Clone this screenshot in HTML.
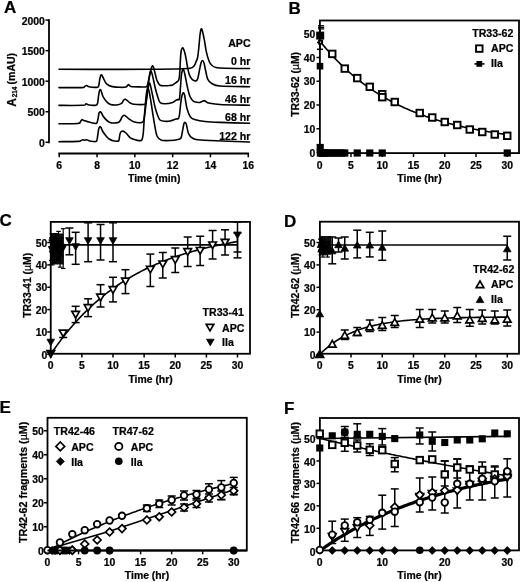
<!DOCTYPE html>
<html><head><meta charset="utf-8"><title>Figure</title>
<style>
html,body{margin:0;padding:0;background:#fff;}
body{width:520px;height:582px;overflow:hidden;}
svg{display:block;will-change:transform;}
text{font-family:"Liberation Sans",sans-serif;font-weight:bold;fill:#000;stroke:#000;stroke-width:0.22px;}
</style></head>
<body>
<svg width="520" height="582" viewBox="0 0 520 582" stroke="#000" fill="none">
<rect x="0" y="0" width="520" height="582" fill="#fff" stroke="none"/>
<g stroke="none" fill="#000">
</g>
<text x="3.9" y="12.6" font-size="17" text-anchor="start">A</text>
<line x1="49" y1="19.2" x2="49" y2="143.2" stroke-width="1.8"/>
<line x1="45.5" y1="142.3" x2="49" y2="142.3" stroke-width="1.5"/>
<text x="44.9" y="147" font-size="10.4" text-anchor="end">0</text>
<line x1="45.5" y1="111.75" x2="49" y2="111.75" stroke-width="1.5"/>
<text x="44.9" y="116.45" font-size="10.4" text-anchor="end">500</text>
<line x1="45.5" y1="81.2" x2="49" y2="81.2" stroke-width="1.5"/>
<text x="44.9" y="85.9" font-size="10.4" text-anchor="end">1000</text>
<line x1="45.5" y1="50.65" x2="49" y2="50.65" stroke-width="1.5"/>
<text x="44.9" y="55.35" font-size="10.4" text-anchor="end">1500</text>
<line x1="45.5" y1="20.1" x2="49" y2="20.1" stroke-width="1.5"/>
<text x="44.9" y="24.8" font-size="10.4" text-anchor="end">2000</text>
<line x1="58.35" y1="153.5" x2="249.15" y2="153.5" stroke-width="1.8"/>
<line x1="59.25" y1="153.5" x2="59.25" y2="157.3" stroke-width="1.5"/>
<text x="59.25" y="168.5" font-size="10.4" text-anchor="middle">6</text>
<line x1="97.05" y1="153.5" x2="97.05" y2="157.3" stroke-width="1.5"/>
<text x="97.05" y="168.5" font-size="10.4" text-anchor="middle">8</text>
<line x1="134.85" y1="153.5" x2="134.85" y2="157.3" stroke-width="1.5"/>
<text x="134.85" y="168.5" font-size="10.4" text-anchor="middle">10</text>
<line x1="172.65" y1="153.5" x2="172.65" y2="157.3" stroke-width="1.5"/>
<text x="172.65" y="168.5" font-size="10.4" text-anchor="middle">12</text>
<line x1="210.45" y1="153.5" x2="210.45" y2="157.3" stroke-width="1.5"/>
<text x="210.45" y="168.5" font-size="10.4" text-anchor="middle">14</text>
<line x1="248.25" y1="153.5" x2="248.25" y2="157.3" stroke-width="1.5"/>
<text x="248.25" y="168.5" font-size="10.4" text-anchor="middle">16</text>
<text x="154.25" y="182.1" font-size="10.4" text-anchor="middle">Time (min)</text>
<text transform="translate(16.4,106.7) rotate(-90)" font-size="12" text-anchor="start">A</text>
<text transform="translate(17.0,97.3) rotate(-90)" font-size="6.4" text-anchor="start">214</text>
<text transform="translate(15.1,84.4) rotate(-90)" font-size="10.5" text-anchor="start">(mAU)</text>
<path d="M59,69.3 C68.15,69.31 106.35,69.4 120,69.4 C133.65,69.4 141.75,69.36 150,69.3 C158.25,69.24 169,69.15 175,69 C181,68.85 187.12,68.78 190,68.3 C192.88,67.82 193.21,66.98 194.2,65.8 C195.19,64.61 196.09,61.64 196.6,60.4 C197.11,59.16 197.27,59.36 197.6,57.5 C197.93,55.64 198.44,51.38 198.8,48 C199.16,44.62 199.64,37.85 200,35 C200.36,32.15 200.84,29.6 201.2,29 C201.56,28.4 201.95,29.47 202.4,31 C202.85,32.53 203.61,36.11 204.2,39.2 C204.78,42.29 205.56,48.3 206.3,51.6 C207.04,54.9 208.25,59.12 209.1,61.2 C209.95,63.29 210.97,64.56 212,65.5 C213.03,66.44 214.05,67.09 216,67.5 C217.95,67.91 219.97,68.05 225,68.2 C230.03,68.35 245.82,68.45 249.5,68.5" fill="none" stroke-width="1.6" stroke-linejoin="round" stroke-linecap="round"/>
<path d="M59,87.6 C62.45,87.6 78.17,87.76 82,87.6 C85.83,87.44 83.8,86.81 84.5,86.5 C85.2,86.19 86.03,85.45 86.7,85.5 C87.38,85.55 87.61,86.52 89,86.8 C90.39,87.08 94.58,87.45 96,87.4 C97.42,87.36 97.93,87.76 98.5,86.5 C99.07,85.24 99.42,80.75 99.8,79 C100.17,77.25 100.62,75.25 101,74.8 C101.38,74.35 101.85,75.3 102.3,76 C102.75,76.7 103.44,78.42 104,79.5 C104.56,80.58 105.25,82.3 106,83.2 C106.75,84.1 108.06,84.99 109,85.5 C109.94,86.01 110.65,86.33 112.3,86.6 C113.95,86.87 117.94,87.24 120,87.3 C122.06,87.36 124.72,87.41 126,87 C127.28,86.59 127.75,84.67 128.5,84.6 C129.25,84.52 129.28,86.16 131,86.5 C132.72,86.84 137.68,86.87 140,86.9 C142.32,86.93 145.3,87.28 146.5,86.7 C147.7,86.12 147.47,85.06 148,83 C148.53,80.94 149.37,75.53 150,73 C150.63,70.47 151.66,66.92 152.2,66.1 C152.74,65.27 153.1,66.16 153.6,67.5 C154.09,68.84 154.99,73.05 155.5,75 C156.01,76.95 156.32,78.97 157,80.5 C157.68,82.03 158.72,84.42 160,85.2 C161.28,85.98 164,85.67 165.5,85.7 C167,85.73 168.94,85.51 170,85.4 C171.06,85.3 171.58,85.51 172.6,85 C173.62,84.49 175.92,82.67 176.8,82 C177.69,81.33 178.09,81.4 178.5,80.5 C178.91,79.6 179.25,78.47 179.5,76 C179.75,73.53 179.97,67.6 180.2,64 C180.42,60.4 180.61,54.43 181,52 C181.39,49.57 182.26,47.8 182.8,47.8 C183.34,47.8 184.06,50.11 184.6,52 C185.14,53.89 185.95,58.06 186.4,60.4 C186.85,62.74 187.15,65.42 187.6,67.6 C188.05,69.77 188.68,73.09 189.4,74.9 C190.12,76.72 191.41,78.8 192.4,79.7 C193.39,80.6 195.19,81.08 196,80.9 C196.81,80.72 197.28,80.14 197.8,78.5 C198.33,76.86 199.02,72.33 199.5,70 C199.98,67.67 200.55,64.42 201,63 C201.45,61.58 202.05,60.5 202.5,60.5 C202.95,60.5 203.55,61.58 204,63 C204.45,64.42 204.94,67.59 205.5,70 C206.06,72.41 206.75,77.07 207.7,79.1 C208.64,81.12 209.96,82.47 211.8,83.5 C213.65,84.53 214.34,85.52 220,86 C225.66,86.48 245.07,86.59 249.5,86.7" fill="none" stroke-width="1.6" stroke-linejoin="round" stroke-linecap="round"/>
<path d="M59,105.4 C62.6,105.39 78.95,105.54 83,105.3 C87.05,105.06 85.1,103.84 86,103.8 C86.9,103.75 87.5,104.79 89,105 C90.5,105.21 94.71,105.5 96,105.2 C97.29,104.9 97.18,104.68 97.6,103 C98.02,101.32 98.45,96 98.8,94 C99.14,92 99.54,90.15 99.9,89.7 C100.26,89.25 100.73,89.98 101.2,91 C101.67,92.02 102.28,95 103,96.5 C103.72,98 105.1,99.91 106,101 C106.9,102.09 108.06,103.22 109,103.8 C109.94,104.38 110.95,104.75 112.3,104.9 C113.65,105.05 116.58,105.05 118,104.8 C119.42,104.55 120.97,103.88 121.8,103.2 C122.62,102.53 123,100.88 123.5,100.3 C124,99.72 124.57,99.3 125.1,99.3 C125.62,99.3 126.28,99.77 127,100.3 C127.72,100.83 128.91,102.22 129.9,102.8 C130.89,103.38 131.34,103.99 133.6,104.2 C135.86,104.41 143.11,104.83 145,104.2 C146.89,103.57 145.7,103.03 146.2,100 C146.69,96.97 147.67,88.25 148.3,84 C148.93,79.75 149.88,73.35 150.4,71.7 C150.93,70.05 151.34,71.75 151.8,73 C152.27,74.25 152.94,77.6 153.5,80 C154.06,82.4 154.9,86.6 155.5,89 C156.1,91.4 156.82,93.97 157.5,96 C158.18,98.03 158.88,101.33 160,102.5 C161.12,103.67 163.11,103.8 165,103.8 C166.89,103.8 170.92,103.06 172.6,102.5 C174.28,101.94 175.31,100.55 176.2,100.1 C177.08,99.65 178,99.68 178.5,99.5 C179,99.32 179.22,100.62 179.5,98.9 C179.78,97.18 180.09,91.78 180.4,88 C180.72,84.22 181.15,76.49 181.6,73.7 C182.05,70.91 182.86,69.06 183.4,69.4 C183.94,69.75 184.57,73.21 185.2,76 C185.83,78.79 186.88,84.92 187.6,88 C188.32,91.08 189.1,94.5 190,96.5 C190.9,98.5 192.34,100.4 193.6,101.3 C194.86,102.2 197.29,102.39 198.4,102.5 C199.51,102.61 200.15,102.28 201,102 C201.85,101.72 203.28,100.6 204.1,100.6 C204.92,100.6 205.79,101.64 206.5,102 C207.21,102.36 206.78,102.62 208.8,103 C210.83,103.38 213.9,104.17 220,104.5 C226.1,104.83 245.07,105.09 249.5,105.2" fill="none" stroke-width="1.6" stroke-linejoin="round" stroke-linecap="round"/>
<path d="M59,123.8 C61.85,123.75 74.78,123.84 78,123.5 C81.22,123.16 79.89,122.09 80.5,121.5 C81.11,120.91 81.65,119.75 82.1,119.6 C82.55,119.45 83.03,120.33 83.5,120.5 C83.97,120.67 84.53,120.51 85.2,120.7 C85.88,120.89 87.07,121.5 88,121.8 C88.93,122.1 90.12,122.48 91.4,122.7 C92.68,122.92 95.51,123.86 96.5,123.3 C97.49,122.74 97.62,120.55 98,119 C98.38,117.45 98.67,114.06 99,113 C99.33,111.94 99.83,111.9 100.2,111.9 C100.58,111.9 101.08,112.39 101.5,113 C101.92,113.61 102.33,115.01 103,116 C103.67,116.99 105.1,118.7 106,119.6 C106.9,120.5 108.1,121.49 109,122 C109.9,122.51 110.65,122.91 112,123 C113.35,123.09 116.74,123 118,122.6 C119.26,122.19 119.8,121.14 120.4,120.3 C121,119.46 121.46,117.75 122,117 C122.54,116.25 123.4,115.41 124,115.3 C124.6,115.19 125.27,115.77 126,116.3 C126.73,116.83 127.76,117.99 128.9,118.8 C130.04,119.61 131.75,121.13 133.6,121.7 C135.44,122.27 139.7,122.75 141.2,122.6 C142.7,122.45 142.98,122.59 143.6,120.7 C144.22,118.81 144.75,114 145.3,110 C145.86,106 146.75,97.99 147.3,94 C147.86,90.01 148.55,84.75 149,83.4 C149.45,82.05 149.78,83.26 150.3,85 C150.83,86.74 151.8,91.7 152.5,95 C153.2,98.3 154.25,104 155,107 C155.75,110 156.75,113.05 157.5,115 C158.25,116.95 158.88,119.06 160,120 C161.12,120.94 163.5,121.15 165,121.3 C166.5,121.45 168.35,121.34 170,121 C171.65,120.66 174.72,119.38 176,119 C177.28,118.62 177.96,119.25 178.5,118.5 C179.04,117.75 179.22,116.62 179.6,114 C179.97,111.38 180.59,103.92 181,101 C181.41,98.08 181.94,95.72 182.3,94.5 C182.66,93.28 183.06,92.83 183.4,92.9 C183.75,92.98 184.07,92.72 184.6,95 C185.12,97.28 186.02,104.81 186.9,108.1 C187.78,111.38 189.19,115.15 190.5,116.9 C191.81,118.66 193.42,119.11 195.6,119.8 C197.78,120.49 201.34,121.11 205,121.5 C208.66,121.89 213.32,122.13 220,122.4 C226.68,122.67 245.07,123.16 249.5,123.3" fill="none" stroke-width="1.6" stroke-linejoin="round" stroke-linecap="round"/>
<path d="M59,141.7 C61.85,141.66 74.7,141.58 78,141.4 C81.3,141.22 80.27,140.75 81,140.5 C81.73,140.25 82.38,139.75 82.9,139.7 C83.43,139.65 83.93,140.2 84.5,140.2 C85.07,140.2 86.03,139.61 86.7,139.7 C87.38,139.79 88.06,140.53 89,140.8 C89.94,141.07 91.88,141.44 93,141.5 C94.12,141.56 95.83,141.88 96.5,141.2 C97.17,140.52 97.17,138.83 97.5,137 C97.83,135.17 98.34,130.56 98.7,129 C99.06,127.44 99.56,126.82 99.9,126.6 C100.25,126.38 100.61,126.84 101,127.5 C101.39,128.16 101.97,130.03 102.5,131 C103.03,131.97 103.83,133.1 104.5,134 C105.17,134.9 106.3,136.25 107,137 C107.7,137.75 108.3,138.43 109.2,139 C110.1,139.57 111.68,140.49 113,140.8 C114.32,141.12 117.1,141.2 118,141.1 C118.9,141 118.72,141.1 119,140.1 C119.28,139.09 119.6,135.65 119.9,134.4 C120.2,133.16 120.56,132.3 121,131.8 C121.44,131.31 122.27,131.1 122.8,131.1 C123.33,131.1 123.94,131.44 124.5,131.8 C125.06,132.16 125.55,132.54 126.5,133.5 C127.45,134.46 129.3,137.21 130.8,138.2 C132.3,139.19 134.97,139.74 136.5,140.1 C138.03,140.46 140.15,140.73 141,140.6 C141.85,140.47 141.85,140.34 142.2,139.2 C142.54,138.06 142.96,136.63 143.3,133 C143.65,129.37 144.09,120.4 144.5,115 C144.91,109.6 145.55,100.97 146,97 C146.45,93.03 147.05,89.4 147.5,88.5 C147.95,87.6 148.47,88.97 149,91 C149.53,93.03 150.4,98.4 151,102 C151.6,105.6 152.4,111.25 153,115 C153.6,118.75 154.4,123.85 155,127 C155.6,130.15 156.04,134.02 157,136 C157.96,137.98 159.45,139.52 161.4,140.2 C163.35,140.88 167.51,140.6 170,140.5 C172.49,140.4 176.35,139.88 178,139.5 C179.65,139.12 180.32,139.28 181,138 C181.68,136.72 182.05,133.18 182.5,131 C182.95,128.82 183.61,124.79 184,123.5 C184.39,122.21 184.75,122.33 185.1,122.4 C185.44,122.48 185.82,122.41 186.3,124 C186.78,125.59 187.55,131 188.3,133 C189.05,135 190.15,136.33 191.3,137.3 C192.46,138.28 193.19,139.02 196,139.5 C198.81,139.98 201.97,140.12 210,140.5 C218.03,140.88 243.57,141.78 249.5,142" fill="none" stroke-width="1.6" stroke-linejoin="round" stroke-linecap="round"/>
<text x="250.6" y="46.9" font-size="10.6" text-anchor="end">APC</text>
<text x="250.4" y="64.6" font-size="10.6" text-anchor="end">0 hr</text>
<text x="250.4" y="84.2" font-size="10.6" text-anchor="end">16 hr</text>
<text x="250.4" y="102.6" font-size="10.6" text-anchor="end">46 hr</text>
<text x="250.4" y="121.1" font-size="10.6" text-anchor="end">68 hr</text>
<text x="250.4" y="139.9" font-size="10.6" text-anchor="end">122 hr</text>
<text x="288.4" y="13.8" font-size="17" text-anchor="start">B</text>
<rect x="319.9" y="20.5" width="199.1" height="132.6" fill="none" stroke-width="1.8"/>
<line x1="316.5" y1="152.5" x2="320" y2="152.5" stroke-width="1.5"/>
<text x="315.2" y="156.5" font-size="10.4" text-anchor="end">0</text>
<line x1="316.5" y1="128.75" x2="320" y2="128.75" stroke-width="1.5"/>
<text x="315.2" y="132.75" font-size="10.4" text-anchor="end">10</text>
<line x1="316.5" y1="105" x2="320" y2="105" stroke-width="1.5"/>
<text x="315.2" y="109" font-size="10.4" text-anchor="end">20</text>
<line x1="316.5" y1="81.25" x2="320" y2="81.25" stroke-width="1.5"/>
<text x="315.2" y="85.25" font-size="10.4" text-anchor="end">30</text>
<line x1="316.5" y1="57.5" x2="320" y2="57.5" stroke-width="1.5"/>
<text x="315.2" y="61.5" font-size="10.4" text-anchor="end">40</text>
<line x1="316.5" y1="33.75" x2="320" y2="33.75" stroke-width="1.5"/>
<text x="315.2" y="37.75" font-size="10.4" text-anchor="end">50</text>
<line x1="319.75" y1="153.25" x2="319.75" y2="157.05" stroke-width="1.5"/>
<text x="319.75" y="168.85" font-size="10.4" text-anchor="middle">0</text>
<line x1="351" y1="153.25" x2="351" y2="157.05" stroke-width="1.5"/>
<text x="351" y="168.85" font-size="10.4" text-anchor="middle">5</text>
<line x1="382.25" y1="153.25" x2="382.25" y2="157.05" stroke-width="1.5"/>
<text x="382.25" y="168.85" font-size="10.4" text-anchor="middle">10</text>
<line x1="413.5" y1="153.25" x2="413.5" y2="157.05" stroke-width="1.5"/>
<text x="413.5" y="168.85" font-size="10.4" text-anchor="middle">15</text>
<line x1="444.75" y1="153.25" x2="444.75" y2="157.05" stroke-width="1.5"/>
<text x="444.75" y="168.85" font-size="10.4" text-anchor="middle">20</text>
<line x1="476" y1="153.25" x2="476" y2="157.05" stroke-width="1.5"/>
<text x="476" y="168.85" font-size="10.4" text-anchor="middle">25</text>
<line x1="507.25" y1="153.25" x2="507.25" y2="157.05" stroke-width="1.5"/>
<text x="507.25" y="168.85" font-size="10.4" text-anchor="middle">30</text>
<text x="419.5" y="182.1" font-size="10.4" text-anchor="middle">Time (hr)</text>
<text transform="translate(299.2,84.4) rotate(-90)" font-size="10.4" text-anchor="middle">TR33-62 (<tspan font-weight="normal">µ</tspan>M)</text>
<path d="M319.75,40.88 L321.31,42.83 L322.88,44.75 L324.44,46.63 L326,48.47 L327.56,50.29 L329.12,52.06 L330.69,53.81 L332.25,55.52 L333.81,57.2 L335.38,58.85 L336.94,60.47 L338.5,62.06 L340.06,63.61 L341.62,65.14 L343.19,66.64 L344.75,68.11 L346.31,69.56 L347.88,70.98 L349.44,72.37 L351,73.73 L352.56,75.07 L354.12,76.39 L355.69,77.68 L357.25,78.94 L358.81,80.18 L360.38,81.4 L361.94,82.6 L363.5,83.77 L365.06,84.93 L366.62,86.06 L368.19,87.16 L369.75,88.25 L371.31,89.32 L372.88,90.37 L374.44,91.4 L376,92.41 L377.56,93.4 L379.12,94.37 L380.69,95.32 L382.25,96.26 L383.81,97.18 L385.38,98.08 L386.94,98.96 L388.5,99.83 L390.06,100.68 L391.62,101.52 L393.19,102.34 L394.75,103.14 L396.31,103.93 L397.88,104.71 L399.44,105.47 L401,106.21 L402.56,106.95 L404.12,107.66 L405.69,108.37 L407.25,109.06 L408.81,109.74 L410.38,110.41 L411.94,111.06 L413.5,111.7 L415.06,112.33 L416.62,112.95 L418.19,113.56 L419.75,114.15 L421.31,114.73 L422.88,115.31 L424.44,115.87 L426,116.42 L427.56,116.96 L429.12,117.49 L430.69,118.02 L432.25,118.53 L433.81,119.03 L435.38,119.52 L436.94,120.01 L438.5,120.48 L440.06,120.94 L441.62,121.4 L443.19,121.85 L444.75,122.29 L446.31,122.72 L447.88,123.15 L449.44,123.56 L451,123.97 L452.56,124.37 L454.12,124.76 L455.69,125.15 L457.25,125.53 L458.81,125.9 L460.38,126.26 L461.94,126.62 L463.5,126.97 L465.06,127.31 L466.62,127.65 L468.19,127.98 L469.75,128.31 L471.31,128.63 L472.88,128.94 L474.44,129.25 L476,129.55 L477.56,129.84 L479.12,130.13 L480.69,130.42 L482.25,130.7 L483.81,130.97 L485.38,131.24 L486.94,131.51 L488.5,131.77 L490.06,132.02 L491.62,132.27 L493.19,132.52 L494.75,132.76 L496.31,132.99 L497.88,133.22 L499.44,133.45 L501,133.67 L502.56,133.89 L504.12,134.11 L505.69,134.32 L507.25,134.52" fill="none" stroke-width="1.6" stroke-linejoin="round"/>
<line x1="320" y1="25.8" x2="320" y2="33" stroke-width="1.5"/>
<line x1="318" y1="25.8" x2="324.2" y2="25.8" stroke-width="1.3"/>
<line x1="318" y1="27.4" x2="324.2" y2="27.4" stroke-width="1.3"/>
<line x1="318" y1="28.9" x2="324.2" y2="28.9" stroke-width="1.3"/>
<line x1="320" y1="42.5" x2="320" y2="49.3" stroke-width="1.5"/>
<line x1="317" y1="42.5" x2="323" y2="42.5" stroke-width="1.5"/>
<line x1="317" y1="49.3" x2="323" y2="49.3" stroke-width="1.5"/>
<rect x="316.2" y="31.6" width="8" height="8" fill="#000" stroke="none"/>
<rect x="316.7" y="62.9" width="6.6" height="6.6" fill="#000" stroke="none"/>
<rect x="316.77" y="149.4" width="7.2" height="7.2" fill="#000" stroke="none"/>
<rect x="317.71" y="149.4" width="7.2" height="7.2" fill="#000" stroke="none"/>
<rect x="319.27" y="149.4" width="7.2" height="7.2" fill="#000" stroke="none"/>
<rect x="320.84" y="149.4" width="7.2" height="7.2" fill="#000" stroke="none"/>
<rect x="322.4" y="149.4" width="7.2" height="7.2" fill="#000" stroke="none"/>
<rect x="325.52" y="149.4" width="7.2" height="7.2" fill="#000" stroke="none"/>
<rect x="328.65" y="149.4" width="7.2" height="7.2" fill="#000" stroke="none"/>
<rect x="331.77" y="149.4" width="7.2" height="7.2" fill="#000" stroke="none"/>
<rect x="334.9" y="149.4" width="7.2" height="7.2" fill="#000" stroke="none"/>
<rect x="338.02" y="149.4" width="7.2" height="7.2" fill="#000" stroke="none"/>
<rect x="341.15" y="149.4" width="7.2" height="7.2" fill="#000" stroke="none"/>
<rect x="353.65" y="149.4" width="7.2" height="7.2" fill="#000" stroke="none"/>
<rect x="366.15" y="149.4" width="7.2" height="7.2" fill="#000" stroke="none"/>
<rect x="378.65" y="149.4" width="7.2" height="7.2" fill="#000" stroke="none"/>
<rect x="503.65" y="149.4" width="7.2" height="7.2" fill="#000" stroke="none"/>
<rect x="316.6" y="143.9" width="7.2" height="7.2" fill="#000" stroke="none"/>
<rect x="319.1" y="40.7" width="3" height="3" fill="#fff" stroke-width="1.9"/>
<rect x="329" y="50.65" width="6.5" height="6.5" fill="#fff" stroke-width="1.9"/>
<rect x="341.5" y="65.35" width="6.5" height="6.5" fill="#fff" stroke-width="1.9"/>
<rect x="354" y="74.85" width="6.5" height="6.5" fill="#fff" stroke-width="1.9"/>
<rect x="366.5" y="83.55" width="6.5" height="6.5" fill="#fff" stroke-width="1.9"/>
<rect x="379" y="90.95" width="6.5" height="6.5" fill="#fff" stroke-width="1.9"/>
<rect x="379" y="93.95" width="6.5" height="6.5" fill="#fff" stroke-width="1.9"/>
<rect x="391.5" y="98.75" width="6.5" height="6.5" fill="#fff" stroke-width="1.9"/>
<rect x="416.5" y="109.75" width="6.5" height="6.5" fill="#fff" stroke-width="1.9"/>
<rect x="429" y="114.25" width="6.5" height="6.5" fill="#fff" stroke-width="1.9"/>
<rect x="441.5" y="118.75" width="6.5" height="6.5" fill="#fff" stroke-width="1.9"/>
<rect x="454" y="121.75" width="6.5" height="6.5" fill="#fff" stroke-width="1.9"/>
<rect x="466.5" y="126.25" width="6.5" height="6.5" fill="#fff" stroke-width="1.9"/>
<rect x="479" y="128.75" width="6.5" height="6.5" fill="#fff" stroke-width="1.9"/>
<rect x="491.5" y="131.25" width="6.5" height="6.5" fill="#fff" stroke-width="1.9"/>
<rect x="504" y="132.55" width="6.5" height="6.5" fill="#fff" stroke-width="1.9"/>
<text x="513.4" y="36.9" font-size="10.6" text-anchor="end">TR33-62</text>
<rect x="476.05" y="45.35" width="6.5" height="6.5" fill="#fff" stroke-width="1.9"/>
<text x="491" y="52.1" font-size="10.6" text-anchor="start">APC</text>
<line x1="474.5" y1="63.9" x2="484.5" y2="63.9" stroke-width="1.6"/>
<rect x="476.4" y="61" width="5.8" height="5.8" fill="#000" stroke="none"/>
<text x="491" y="67.2" font-size="10.6" text-anchor="start">IIa</text>
<text x="-0.5" y="225.5" font-size="17" text-anchor="start">C</text>
<rect x="50.75" y="221.9" width="199.25" height="131.85" fill="none" stroke-width="1.8"/>
<line x1="47.25" y1="354.3" x2="50.75" y2="354.3" stroke-width="1.5"/>
<text x="47.35" y="358.5" font-size="10.4" text-anchor="end">0</text>
<line x1="47.25" y1="331.95" x2="50.75" y2="331.95" stroke-width="1.5"/>
<text x="47.35" y="336.15" font-size="10.4" text-anchor="end">10</text>
<line x1="47.25" y1="309.6" x2="50.75" y2="309.6" stroke-width="1.5"/>
<text x="47.35" y="313.8" font-size="10.4" text-anchor="end">20</text>
<line x1="47.25" y1="287.25" x2="50.75" y2="287.25" stroke-width="1.5"/>
<text x="47.35" y="291.45" font-size="10.4" text-anchor="end">30</text>
<line x1="47.25" y1="264.9" x2="50.75" y2="264.9" stroke-width="1.5"/>
<text x="47.35" y="269.1" font-size="10.4" text-anchor="end">40</text>
<line x1="47.25" y1="242.55" x2="50.75" y2="242.55" stroke-width="1.5"/>
<text x="47.35" y="246.75" font-size="10.4" text-anchor="end">50</text>
<line x1="50.75" y1="353.75" x2="50.75" y2="357.55" stroke-width="1.5"/>
<text x="50.75" y="369.35" font-size="10.4" text-anchor="middle">0</text>
<line x1="81.88" y1="353.75" x2="81.88" y2="357.55" stroke-width="1.5"/>
<text x="81.88" y="369.35" font-size="10.4" text-anchor="middle">5</text>
<line x1="113" y1="353.75" x2="113" y2="357.55" stroke-width="1.5"/>
<text x="113" y="369.35" font-size="10.4" text-anchor="middle">10</text>
<line x1="144.12" y1="353.75" x2="144.12" y2="357.55" stroke-width="1.5"/>
<text x="144.12" y="369.35" font-size="10.4" text-anchor="middle">15</text>
<line x1="175.25" y1="353.75" x2="175.25" y2="357.55" stroke-width="1.5"/>
<text x="175.25" y="369.35" font-size="10.4" text-anchor="middle">20</text>
<line x1="206.38" y1="353.75" x2="206.38" y2="357.55" stroke-width="1.5"/>
<text x="206.38" y="369.35" font-size="10.4" text-anchor="middle">25</text>
<line x1="237.5" y1="353.75" x2="237.5" y2="357.55" stroke-width="1.5"/>
<text x="237.5" y="369.35" font-size="10.4" text-anchor="middle">30</text>
<text x="150.6" y="382.6" font-size="10.4" text-anchor="middle">Time (hr)</text>
<text transform="translate(30.6,285.3) rotate(-90)" font-size="10.4" text-anchor="middle">TR33-41 (<tspan font-weight="normal">µ</tspan>M)</text>
<line x1="50.75" y1="244.9" x2="237.5" y2="244.9" stroke-width="1.6"/>
<path d="M50.75,354.3 L52.31,352 L53.86,349.75 L55.42,347.54 L56.98,345.36 L58.53,343.23 L60.09,341.13 L61.64,339.08 L63.2,337.06 L64.76,335.07 L66.31,333.12 L67.87,331.21 L69.42,329.33 L70.98,327.49 L72.54,325.68 L74.09,323.9 L75.65,322.15 L77.21,320.44 L78.76,318.75 L80.32,317.1 L81.88,315.48 L83.43,313.89 L84.99,312.32 L86.54,310.78 L88.1,309.27 L89.66,307.79 L91.21,306.34 L92.77,304.91 L94.32,303.51 L95.88,302.13 L97.44,300.78 L98.99,299.45 L100.55,298.15 L102.11,296.87 L103.66,295.61 L105.22,294.37 L106.78,293.16 L108.33,291.97 L109.89,290.8 L111.44,289.66 L113,288.53 L114.56,287.42 L116.11,286.34 L117.67,285.27 L119.22,284.22 L120.78,283.19 L122.34,282.18 L123.89,281.19 L125.45,280.22 L127.01,279.26 L128.56,278.32 L130.12,277.4 L131.68,276.5 L133.23,275.61 L134.79,274.74 L136.34,273.88 L137.9,273.04 L139.46,272.21 L141.01,271.4 L142.57,270.6 L144.12,269.82 L145.68,269.05 L147.24,268.3 L148.79,267.56 L150.35,266.83 L151.91,266.12 L153.46,265.42 L155.02,264.73 L156.57,264.05 L158.13,263.39 L159.69,262.74 L161.24,262.1 L162.8,261.47 L164.36,260.85 L165.91,260.25 L167.47,259.65 L169.02,259.07 L170.58,258.49 L172.14,257.93 L173.69,257.38 L175.25,256.83 L176.81,256.3 L178.36,255.78 L179.92,255.26 L181.47,254.76 L183.03,254.26 L184.59,253.78 L186.14,253.3 L187.7,252.83 L189.26,252.37 L190.81,251.92 L192.37,251.47 L193.92,251.04 L195.48,250.61 L197.04,250.19 L198.59,249.77 L200.15,249.37 L201.71,248.97 L203.26,248.58 L204.82,248.2 L206.38,247.82 L207.93,247.45 L209.49,247.08 L211.04,246.73 L212.6,246.38 L214.16,246.03 L215.71,245.7 L217.27,245.36 L218.82,245.04 L220.38,244.72 L221.94,244.4 L223.49,244.1 L225.05,243.79 L226.61,243.5 L228.16,243.2 L229.72,242.92 L231.27,242.64 L232.83,242.36 L234.39,242.09 L235.94,241.82 L237.5,241.56" fill="none" stroke-width="1.6" stroke-linejoin="round"/>
<rect x="51" y="233.5" width="12.5" height="31" fill="#111" stroke="none"/>
<line x1="51.25" y1="238.08" x2="51.25" y2="260.43" stroke-width="1.2"/>
<line x1="49" y1="238.08" x2="53.5" y2="238.08" stroke-width="1.2"/>
<line x1="49" y1="260.43" x2="53.5" y2="260.43" stroke-width="1.2"/>
<line x1="51.81" y1="233.61" x2="51.81" y2="251.49" stroke-width="1.2"/>
<line x1="49.56" y1="233.61" x2="54.06" y2="233.61" stroke-width="1.2"/>
<line x1="49.56" y1="251.49" x2="54.06" y2="251.49" stroke-width="1.2"/>
<line x1="52.31" y1="242.55" x2="52.31" y2="264.9" stroke-width="1.2"/>
<line x1="50.06" y1="242.55" x2="54.56" y2="242.55" stroke-width="1.2"/>
<line x1="50.06" y1="264.9" x2="54.56" y2="264.9" stroke-width="1.2"/>
<line x1="52.8" y1="233.61" x2="52.8" y2="247.02" stroke-width="1.2"/>
<line x1="50.55" y1="233.61" x2="55.05" y2="233.61" stroke-width="1.2"/>
<line x1="50.55" y1="247.02" x2="55.05" y2="247.02" stroke-width="1.2"/>
<line x1="53.86" y1="233.61" x2="53.86" y2="260.43" stroke-width="1.2"/>
<line x1="51.61" y1="233.61" x2="56.11" y2="233.61" stroke-width="1.2"/>
<line x1="51.61" y1="260.43" x2="56.11" y2="260.43" stroke-width="1.2"/>
<line x1="54.92" y1="240.31" x2="54.92" y2="262.67" stroke-width="1.2"/>
<line x1="52.67" y1="240.31" x2="57.17" y2="240.31" stroke-width="1.2"/>
<line x1="52.67" y1="262.67" x2="57.17" y2="262.67" stroke-width="1.2"/>
<line x1="55.92" y1="233.61" x2="55.92" y2="251.49" stroke-width="1.2"/>
<line x1="53.67" y1="233.61" x2="58.17" y2="233.61" stroke-width="1.2"/>
<line x1="53.67" y1="251.49" x2="58.17" y2="251.49" stroke-width="1.2"/>
<line x1="56.98" y1="238.08" x2="56.98" y2="260.43" stroke-width="1.2"/>
<line x1="54.73" y1="238.08" x2="59.23" y2="238.08" stroke-width="1.2"/>
<line x1="54.73" y1="260.43" x2="59.23" y2="260.43" stroke-width="1.2"/>
<line x1="58.53" y1="231.38" x2="58.53" y2="258.2" stroke-width="1.2"/>
<line x1="56.28" y1="231.38" x2="60.78" y2="231.38" stroke-width="1.2"/>
<line x1="56.28" y1="258.2" x2="60.78" y2="258.2" stroke-width="1.2"/>
<line x1="60.09" y1="240.31" x2="60.09" y2="267.13" stroke-width="1.2"/>
<line x1="57.84" y1="240.31" x2="62.34" y2="240.31" stroke-width="1.2"/>
<line x1="57.84" y1="267.13" x2="62.34" y2="267.13" stroke-width="1.2"/>
<line x1="61.64" y1="238.08" x2="61.64" y2="255.96" stroke-width="1.2"/>
<line x1="59.39" y1="238.08" x2="63.89" y2="238.08" stroke-width="1.2"/>
<line x1="59.39" y1="255.96" x2="63.89" y2="255.96" stroke-width="1.2"/>
<line x1="63.2" y1="228.69" x2="63.2" y2="268.48" stroke-width="1.2"/>
<line x1="60.95" y1="228.69" x2="65.45" y2="228.69" stroke-width="1.2"/>
<line x1="60.95" y1="268.48" x2="65.45" y2="268.48" stroke-width="1.2"/>
<polygon points="48.25,246.46 54.25,246.46 51.25,252.06" fill="#000" stroke="#000" stroke-width="0.8" stroke-linejoin="miter"/>
<polygon points="48.81,239.75 54.81,239.75 51.81,245.35" fill="#000" stroke="#000" stroke-width="0.8" stroke-linejoin="miter"/>
<polygon points="49.31,250.93 55.31,250.93 52.31,256.53" fill="#000" stroke="#000" stroke-width="0.8" stroke-linejoin="miter"/>
<polygon points="49.8,237.51 55.8,237.51 52.8,243.12" fill="#000" stroke="#000" stroke-width="0.8" stroke-linejoin="miter"/>
<polygon points="50.86,244.22 56.86,244.22 53.86,249.82" fill="#000" stroke="#000" stroke-width="0.8" stroke-linejoin="miter"/>
<polygon points="51.92,248.69 57.92,248.69 54.92,254.29" fill="#000" stroke="#000" stroke-width="0.8" stroke-linejoin="miter"/>
<polygon points="52.92,239.75 58.92,239.75 55.92,245.35" fill="#000" stroke="#000" stroke-width="0.8" stroke-linejoin="miter"/>
<polygon points="53.98,246.46 59.98,246.46 56.98,252.06" fill="#000" stroke="#000" stroke-width="0.8" stroke-linejoin="miter"/>
<polygon points="55.53,241.99 61.53,241.99 58.53,247.59" fill="#000" stroke="#000" stroke-width="0.8" stroke-linejoin="miter"/>
<polygon points="57.09,250.93 63.09,250.93 60.09,256.53" fill="#000" stroke="#000" stroke-width="0.8" stroke-linejoin="miter"/>
<polygon points="58.64,244.22 64.64,244.22 61.64,249.82" fill="#000" stroke="#000" stroke-width="0.8" stroke-linejoin="miter"/>
<polygon points="60.2,245.78 66.2,245.78 63.2,251.38" fill="#000" stroke="#000" stroke-width="0.8" stroke-linejoin="miter"/>
<line x1="69.42" y1="228" x2="69.42" y2="254.8" stroke-width="1.5"/>
<line x1="65.42" y1="228" x2="73.42" y2="228" stroke-width="1.5"/>
<line x1="65.42" y1="254.8" x2="73.42" y2="254.8" stroke-width="1.5"/>
<polygon points="65.62,237.7 73.22,237.7 69.42,244.3" fill="#000" stroke="#000" stroke-width="0.8" stroke-linejoin="miter"/>
<line x1="75.65" y1="232.3" x2="75.65" y2="264.3" stroke-width="1.5"/>
<line x1="71.65" y1="232.3" x2="79.65" y2="232.3" stroke-width="1.5"/>
<line x1="71.65" y1="264.3" x2="79.65" y2="264.3" stroke-width="1.5"/>
<polygon points="71.85,243.7 79.45,243.7 75.65,250.3" fill="#000" stroke="#000" stroke-width="0.8" stroke-linejoin="miter"/>
<line x1="88.1" y1="222.8" x2="88.1" y2="261.7" stroke-width="1.5"/>
<line x1="84.1" y1="222.8" x2="92.1" y2="222.8" stroke-width="1.5"/>
<line x1="84.1" y1="261.7" x2="92.1" y2="261.7" stroke-width="1.5"/>
<polygon points="84.3,237.7 91.9,237.7 88.1,244.3" fill="#000" stroke="#000" stroke-width="0.8" stroke-linejoin="miter"/>
<line x1="100.55" y1="224.5" x2="100.55" y2="260" stroke-width="1.5"/>
<line x1="96.55" y1="224.5" x2="104.55" y2="224.5" stroke-width="1.5"/>
<line x1="96.55" y1="260" x2="104.55" y2="260" stroke-width="1.5"/>
<polygon points="96.75,237.7 104.35,237.7 100.55,244.3" fill="#000" stroke="#000" stroke-width="0.8" stroke-linejoin="miter"/>
<line x1="113" y1="222.8" x2="113" y2="261.7" stroke-width="1.5"/>
<line x1="109" y1="222.8" x2="117" y2="222.8" stroke-width="1.5"/>
<line x1="109" y1="261.7" x2="117" y2="261.7" stroke-width="1.5"/>
<polygon points="109.2,237.7 116.8,237.7 113,244.3" fill="#000" stroke="#000" stroke-width="0.8" stroke-linejoin="miter"/>
<line x1="237.5" y1="222" x2="237.5" y2="257.9" stroke-width="1.5"/>
<line x1="233.5" y1="222" x2="241.5" y2="222" stroke-width="1.5"/>
<line x1="233.5" y1="257.9" x2="241.5" y2="257.9" stroke-width="1.5"/>
<polygon points="233.7,232 241.3,232 237.5,238.6" fill="#000" stroke="#000" stroke-width="0.8" stroke-linejoin="miter"/>
<polygon points="46.95,339.2 54.55,339.2 50.75,345.8" fill="#000" stroke="#000" stroke-width="0.8" stroke-linejoin="miter"/>
<line x1="63.2" y1="330.75" x2="63.2" y2="337.5" stroke-width="1.5"/>
<line x1="59.2" y1="330.75" x2="67.2" y2="330.75" stroke-width="1.5"/>
<line x1="59.2" y1="337.5" x2="67.2" y2="337.5" stroke-width="1.5"/>
<line x1="75.65" y1="306.3" x2="75.65" y2="322.6" stroke-width="1.5"/>
<line x1="71.65" y1="306.3" x2="79.65" y2="306.3" stroke-width="1.5"/>
<line x1="71.65" y1="322.6" x2="79.65" y2="322.6" stroke-width="1.5"/>
<line x1="88.1" y1="298.8" x2="88.1" y2="316.6" stroke-width="1.5"/>
<line x1="84.1" y1="298.8" x2="92.1" y2="298.8" stroke-width="1.5"/>
<line x1="84.1" y1="316.6" x2="92.1" y2="316.6" stroke-width="1.5"/>
<line x1="100.55" y1="284.7" x2="100.55" y2="307" stroke-width="1.5"/>
<line x1="96.55" y1="284.7" x2="104.55" y2="284.7" stroke-width="1.5"/>
<line x1="96.55" y1="307" x2="104.55" y2="307" stroke-width="1.5"/>
<line x1="113" y1="277.3" x2="113" y2="301.9" stroke-width="1.5"/>
<line x1="109" y1="277.3" x2="117" y2="277.3" stroke-width="1.5"/>
<line x1="109" y1="301.9" x2="117" y2="301.9" stroke-width="1.5"/>
<line x1="125.45" y1="269.7" x2="125.45" y2="293.6" stroke-width="1.5"/>
<line x1="121.45" y1="269.7" x2="129.45" y2="269.7" stroke-width="1.5"/>
<line x1="121.45" y1="293.6" x2="129.45" y2="293.6" stroke-width="1.5"/>
<line x1="150.35" y1="254.1" x2="150.35" y2="286.5" stroke-width="1.5"/>
<line x1="146.35" y1="254.1" x2="154.35" y2="254.1" stroke-width="1.5"/>
<line x1="146.35" y1="286.5" x2="154.35" y2="286.5" stroke-width="1.5"/>
<line x1="162.8" y1="252.5" x2="162.8" y2="278" stroke-width="1.5"/>
<line x1="158.8" y1="252.5" x2="166.8" y2="252.5" stroke-width="1.5"/>
<line x1="158.8" y1="278" x2="166.8" y2="278" stroke-width="1.5"/>
<line x1="175.25" y1="248" x2="175.25" y2="272.5" stroke-width="1.5"/>
<line x1="171.25" y1="248" x2="179.25" y2="248" stroke-width="1.5"/>
<line x1="171.25" y1="272.5" x2="179.25" y2="272.5" stroke-width="1.5"/>
<line x1="187.7" y1="237" x2="187.7" y2="266.5" stroke-width="1.5"/>
<line x1="183.7" y1="237" x2="191.7" y2="237" stroke-width="1.5"/>
<line x1="183.7" y1="266.5" x2="191.7" y2="266.5" stroke-width="1.5"/>
<line x1="200.15" y1="236.25" x2="200.15" y2="265.5" stroke-width="1.5"/>
<line x1="196.15" y1="236.25" x2="204.15" y2="236.25" stroke-width="1.5"/>
<line x1="196.15" y1="265.5" x2="204.15" y2="265.5" stroke-width="1.5"/>
<line x1="212.6" y1="230.5" x2="212.6" y2="259" stroke-width="1.5"/>
<line x1="208.6" y1="230.5" x2="216.6" y2="230.5" stroke-width="1.5"/>
<line x1="208.6" y1="259" x2="216.6" y2="259" stroke-width="1.5"/>
<line x1="225.05" y1="229.8" x2="225.05" y2="255" stroke-width="1.5"/>
<line x1="221.05" y1="229.8" x2="229.05" y2="229.8" stroke-width="1.5"/>
<line x1="221.05" y1="255" x2="229.05" y2="255" stroke-width="1.5"/>
<line x1="237.5" y1="233" x2="237.5" y2="252" stroke-width="1.5"/>
<line x1="233.5" y1="233" x2="241.5" y2="233" stroke-width="1.5"/>
<line x1="233.5" y1="252" x2="241.5" y2="252" stroke-width="1.5"/>
<polygon points="46.95,350.7 54.55,350.7 50.75,357.3" fill="#fff" stroke-width="1.7" stroke-linejoin="miter"/>
<polygon points="59.4,330.1 67,330.1 63.2,336.7" fill="#fff" stroke-width="1.7" stroke-linejoin="miter"/>
<polygon points="71.85,311.4 79.45,311.4 75.65,318" fill="#fff" stroke-width="1.7" stroke-linejoin="miter"/>
<polygon points="84.3,304.7 91.9,304.7 88.1,311.3" fill="#fff" stroke-width="1.7" stroke-linejoin="miter"/>
<polygon points="96.75,294.2 104.35,294.2 100.55,300.8" fill="#fff" stroke-width="1.7" stroke-linejoin="miter"/>
<polygon points="109.2,286.7 116.8,286.7 113,293.3" fill="#fff" stroke-width="1.7" stroke-linejoin="miter"/>
<polygon points="121.65,278.2 129.25,278.2 125.45,284.8" fill="#fff" stroke-width="1.7" stroke-linejoin="miter"/>
<polygon points="146.55,266.3 154.15,266.3 150.35,272.9" fill="#fff" stroke-width="1.7" stroke-linejoin="miter"/>
<polygon points="159,261 166.6,261 162.8,267.6" fill="#fff" stroke-width="1.7" stroke-linejoin="miter"/>
<polygon points="171.45,256.7 179.05,256.7 175.25,263.3" fill="#fff" stroke-width="1.7" stroke-linejoin="miter"/>
<polygon points="183.9,248.7 191.5,248.7 187.7,255.3" fill="#fff" stroke-width="1.7" stroke-linejoin="miter"/>
<polygon points="196.35,247.5 203.95,247.5 200.15,254.1" fill="#fff" stroke-width="1.7" stroke-linejoin="miter"/>
<polygon points="208.8,242 216.4,242 212.6,248.6" fill="#fff" stroke-width="1.7" stroke-linejoin="miter"/>
<polygon points="221.25,239.4 228.85,239.4 225.05,246" fill="#fff" stroke-width="1.7" stroke-linejoin="miter"/>
<polygon points="46.95,350.7 54.55,350.7 50.75,357.3" fill="#000" stroke="#000" stroke-width="0.8" stroke-linejoin="miter"/>
<text x="243.8" y="316.2" font-size="10.6" text-anchor="end">TR33-41</text>
<polygon points="206.2,324.3 213.8,324.3 210,330.9" fill="#fff" stroke-width="1.7" stroke-linejoin="miter"/>
<text x="222" y="331.6" font-size="10.6" text-anchor="start">APC</text>
<polygon points="206.5,339.2 214.1,339.2 210.3,345.8" fill="#000" stroke="#000" stroke-width="0.8" stroke-linejoin="miter"/>
<text x="222" y="345.6" font-size="10.6" text-anchor="start">IIa</text>
<text x="284" y="226.9" font-size="17" text-anchor="start">D</text>
<rect x="319.9" y="221.7" width="199.1" height="132.05" fill="none" stroke-width="1.8"/>
<line x1="316.5" y1="354.5" x2="320" y2="354.5" stroke-width="1.5"/>
<text x="315.6" y="358.7" font-size="10.4" text-anchor="end">0</text>
<line x1="316.5" y1="332.1" x2="320" y2="332.1" stroke-width="1.5"/>
<text x="315.6" y="336.3" font-size="10.4" text-anchor="end">10</text>
<line x1="316.5" y1="309.7" x2="320" y2="309.7" stroke-width="1.5"/>
<text x="315.6" y="313.9" font-size="10.4" text-anchor="end">20</text>
<line x1="316.5" y1="287.3" x2="320" y2="287.3" stroke-width="1.5"/>
<text x="315.6" y="291.5" font-size="10.4" text-anchor="end">30</text>
<line x1="316.5" y1="264.9" x2="320" y2="264.9" stroke-width="1.5"/>
<text x="315.6" y="269.1" font-size="10.4" text-anchor="end">40</text>
<line x1="316.5" y1="242.5" x2="320" y2="242.5" stroke-width="1.5"/>
<text x="315.6" y="246.7" font-size="10.4" text-anchor="end">50</text>
<line x1="319.75" y1="353.75" x2="319.75" y2="357.55" stroke-width="1.5"/>
<text x="319.75" y="369.35" font-size="10.4" text-anchor="middle">0</text>
<line x1="351" y1="353.75" x2="351" y2="357.55" stroke-width="1.5"/>
<text x="351" y="369.35" font-size="10.4" text-anchor="middle">5</text>
<line x1="382.25" y1="353.75" x2="382.25" y2="357.55" stroke-width="1.5"/>
<text x="382.25" y="369.35" font-size="10.4" text-anchor="middle">10</text>
<line x1="413.5" y1="353.75" x2="413.5" y2="357.55" stroke-width="1.5"/>
<text x="413.5" y="369.35" font-size="10.4" text-anchor="middle">15</text>
<line x1="444.75" y1="353.75" x2="444.75" y2="357.55" stroke-width="1.5"/>
<text x="444.75" y="369.35" font-size="10.4" text-anchor="middle">20</text>
<line x1="476" y1="353.75" x2="476" y2="357.55" stroke-width="1.5"/>
<text x="476" y="369.35" font-size="10.4" text-anchor="middle">25</text>
<line x1="507.25" y1="353.75" x2="507.25" y2="357.55" stroke-width="1.5"/>
<text x="507.25" y="369.35" font-size="10.4" text-anchor="middle">30</text>
<text x="419.5" y="382.6" font-size="10.4" text-anchor="middle">Time (hr)</text>
<text transform="translate(299.2,285.6) rotate(-90)" font-size="10.4" text-anchor="middle">TR42-62 (<tspan font-weight="normal">µ</tspan>M)</text>
<line x1="320" y1="245" x2="507.25" y2="245" stroke-width="1.6"/>
<path d="M319.75,354.5 L321.31,352.93 L322.88,351.43 L324.44,350 L326,348.62 L327.56,347.3 L329.12,346.03 L330.69,344.82 L332.25,343.65 L333.81,342.54 L335.38,341.47 L336.94,340.45 L338.5,339.47 L340.06,338.53 L341.62,337.62 L343.19,336.76 L344.75,335.93 L346.31,335.14 L347.88,334.38 L349.44,333.65 L351,332.95 L352.56,332.28 L354.12,331.64 L355.69,331.03 L357.25,330.44 L358.81,329.87 L360.38,329.33 L361.94,328.81 L363.5,328.32 L365.06,327.84 L366.62,327.38 L368.19,326.95 L369.75,326.53 L371.31,326.12 L372.88,325.74 L374.44,325.37 L376,325.02 L377.56,324.68 L379.12,324.35 L380.69,324.04 L382.25,323.74 L383.81,323.46 L385.38,323.18 L386.94,322.92 L388.5,322.67 L390.06,322.43 L391.62,322.2 L393.19,321.97 L394.75,321.76 L396.31,321.56 L397.88,321.36 L399.44,321.18 L401,321 L402.56,320.82 L404.12,320.66 L405.69,320.5 L407.25,320.35 L408.81,320.21 L410.38,320.07 L411.94,319.93 L413.5,319.81 L415.06,319.68 L416.62,319.57 L418.19,319.45 L419.75,319.35 L421.31,319.24 L422.88,319.14 L424.44,319.05 L426,318.96 L427.56,318.87 L429.12,318.79 L430.69,318.71 L432.25,318.63 L433.81,318.56 L435.38,318.49 L436.94,318.42 L438.5,318.36 L440.06,318.29 L441.62,318.24 L443.19,318.18 L444.75,318.12 L446.31,318.07 L447.88,318.02 L449.44,317.97 L451,317.93 L452.56,317.88 L454.12,317.84 L455.69,317.8 L457.25,317.76 L458.81,317.72 L460.38,317.69 L461.94,317.65 L463.5,317.62 L465.06,317.59 L466.62,317.56 L468.19,317.53 L469.75,317.5 L471.31,317.48 L472.88,317.45 L474.44,317.43 L476,317.4 L477.56,317.38 L479.12,317.36 L480.69,317.34 L482.25,317.32 L483.81,317.3 L485.38,317.28 L486.94,317.27 L488.5,317.25 L490.06,317.23 L491.62,317.22 L493.19,317.2 L494.75,317.19 L496.31,317.18 L497.88,317.16 L499.44,317.15 L501,317.14 L502.56,317.13 L504.12,317.12 L505.69,317.11 L507.25,317.1" fill="none" stroke-width="1.6" stroke-linejoin="round"/>
<rect x="320" y="236" width="11.5" height="16.5" fill="#111" stroke="none"/>
<line x1="320.25" y1="239.14" x2="320.25" y2="250.34" stroke-width="1.2"/>
<line x1="318" y1="239.14" x2="322.5" y2="239.14" stroke-width="1.2"/>
<line x1="318" y1="250.34" x2="322.5" y2="250.34" stroke-width="1.2"/>
<line x1="320.81" y1="243.62" x2="320.81" y2="254.82" stroke-width="1.2"/>
<line x1="318.56" y1="243.62" x2="323.06" y2="243.62" stroke-width="1.2"/>
<line x1="318.56" y1="254.82" x2="323.06" y2="254.82" stroke-width="1.2"/>
<line x1="321.31" y1="238.02" x2="321.31" y2="246.98" stroke-width="1.2"/>
<line x1="319.06" y1="238.02" x2="323.56" y2="238.02" stroke-width="1.2"/>
<line x1="319.06" y1="246.98" x2="323.56" y2="246.98" stroke-width="1.2"/>
<line x1="321.81" y1="241.38" x2="321.81" y2="252.58" stroke-width="1.2"/>
<line x1="319.56" y1="241.38" x2="324.06" y2="241.38" stroke-width="1.2"/>
<line x1="319.56" y1="252.58" x2="324.06" y2="252.58" stroke-width="1.2"/>
<line x1="322.88" y1="245.86" x2="322.88" y2="257.06" stroke-width="1.2"/>
<line x1="320.62" y1="245.86" x2="325.12" y2="245.86" stroke-width="1.2"/>
<line x1="320.62" y1="257.06" x2="325.12" y2="257.06" stroke-width="1.2"/>
<line x1="323.94" y1="240.26" x2="323.94" y2="249.22" stroke-width="1.2"/>
<line x1="321.69" y1="240.26" x2="326.19" y2="240.26" stroke-width="1.2"/>
<line x1="321.69" y1="249.22" x2="326.19" y2="249.22" stroke-width="1.2"/>
<line x1="324.94" y1="243.62" x2="324.94" y2="254.82" stroke-width="1.2"/>
<line x1="322.69" y1="243.62" x2="327.19" y2="243.62" stroke-width="1.2"/>
<line x1="322.69" y1="254.82" x2="327.19" y2="254.82" stroke-width="1.2"/>
<line x1="326" y1="242.5" x2="326" y2="251.46" stroke-width="1.2"/>
<line x1="323.75" y1="242.5" x2="328.25" y2="242.5" stroke-width="1.2"/>
<line x1="323.75" y1="251.46" x2="328.25" y2="251.46" stroke-width="1.2"/>
<line x1="327.56" y1="245.86" x2="327.56" y2="257.06" stroke-width="1.2"/>
<line x1="325.31" y1="245.86" x2="329.81" y2="245.86" stroke-width="1.2"/>
<line x1="325.31" y1="257.06" x2="329.81" y2="257.06" stroke-width="1.2"/>
<line x1="329.12" y1="241.38" x2="329.12" y2="252.58" stroke-width="1.2"/>
<line x1="326.88" y1="241.38" x2="331.38" y2="241.38" stroke-width="1.2"/>
<line x1="326.88" y1="252.58" x2="331.38" y2="252.58" stroke-width="1.2"/>
<polygon points="317.25,247.54 323.25,247.54 320.25,241.94" fill="#000" stroke="#000" stroke-width="0.8" stroke-linejoin="miter"/>
<polygon points="317.81,252.02 323.81,252.02 320.81,246.42" fill="#000" stroke="#000" stroke-width="0.8" stroke-linejoin="miter"/>
<polygon points="318.31,245.3 324.31,245.3 321.31,239.7" fill="#000" stroke="#000" stroke-width="0.8" stroke-linejoin="miter"/>
<polygon points="318.81,249.78 324.81,249.78 321.81,244.18" fill="#000" stroke="#000" stroke-width="0.8" stroke-linejoin="miter"/>
<polygon points="319.88,254.26 325.88,254.26 322.88,248.66" fill="#000" stroke="#000" stroke-width="0.8" stroke-linejoin="miter"/>
<polygon points="320.94,247.54 326.94,247.54 323.94,241.94" fill="#000" stroke="#000" stroke-width="0.8" stroke-linejoin="miter"/>
<polygon points="321.94,252.02 327.94,252.02 324.94,246.42" fill="#000" stroke="#000" stroke-width="0.8" stroke-linejoin="miter"/>
<polygon points="323,249.78 329,249.78 326,244.18" fill="#000" stroke="#000" stroke-width="0.8" stroke-linejoin="miter"/>
<polygon points="324.56,254.26 330.56,254.26 327.56,248.66" fill="#000" stroke="#000" stroke-width="0.8" stroke-linejoin="miter"/>
<polygon points="326.12,249.78 332.12,249.78 329.12,244.18" fill="#000" stroke="#000" stroke-width="0.8" stroke-linejoin="miter"/>
<line x1="332.25" y1="237" x2="332.25" y2="263.8" stroke-width="1.5"/>
<line x1="328.25" y1="237" x2="336.25" y2="237" stroke-width="1.5"/>
<line x1="328.25" y1="263.8" x2="336.25" y2="263.8" stroke-width="1.5"/>
<polygon points="328.45,253.8 336.05,253.8 332.25,247.2" fill="#000" stroke="#000" stroke-width="0.8" stroke-linejoin="miter"/>
<line x1="338.5" y1="238" x2="338.5" y2="252" stroke-width="1.5"/>
<line x1="334.5" y1="238" x2="342.5" y2="238" stroke-width="1.5"/>
<line x1="334.5" y1="252" x2="342.5" y2="252" stroke-width="1.5"/>
<polygon points="334.7,247.7 342.3,247.7 338.5,241.1" fill="#000" stroke="#000" stroke-width="0.8" stroke-linejoin="miter"/>
<line x1="344.75" y1="237" x2="344.75" y2="259" stroke-width="1.5"/>
<line x1="340.75" y1="237" x2="348.75" y2="237" stroke-width="1.5"/>
<line x1="340.75" y1="259" x2="348.75" y2="259" stroke-width="1.5"/>
<polygon points="340.95,251.2 348.55,251.2 344.75,244.6" fill="#000" stroke="#000" stroke-width="0.8" stroke-linejoin="miter"/>
<line x1="357.25" y1="230.2" x2="357.25" y2="257.9" stroke-width="1.5"/>
<line x1="353.25" y1="230.2" x2="361.25" y2="230.2" stroke-width="1.5"/>
<line x1="353.25" y1="257.9" x2="361.25" y2="257.9" stroke-width="1.5"/>
<polygon points="353.45,248.05 361.05,248.05 357.25,241.45" fill="#000" stroke="#000" stroke-width="0.8" stroke-linejoin="miter"/>
<line x1="369.75" y1="232.3" x2="369.75" y2="256.9" stroke-width="1.5"/>
<line x1="365.75" y1="232.3" x2="373.75" y2="232.3" stroke-width="1.5"/>
<line x1="365.75" y1="256.9" x2="373.75" y2="256.9" stroke-width="1.5"/>
<polygon points="365.95,248.05 373.55,248.05 369.75,241.45" fill="#000" stroke="#000" stroke-width="0.8" stroke-linejoin="miter"/>
<line x1="382.25" y1="231" x2="382.25" y2="260.3" stroke-width="1.5"/>
<line x1="378.25" y1="231" x2="386.25" y2="231" stroke-width="1.5"/>
<line x1="378.25" y1="260.3" x2="386.25" y2="260.3" stroke-width="1.5"/>
<polygon points="378.45,250.3 386.05,250.3 382.25,243.7" fill="#000" stroke="#000" stroke-width="0.8" stroke-linejoin="miter"/>
<line x1="507.25" y1="236.25" x2="507.25" y2="260" stroke-width="1.5"/>
<line x1="503.25" y1="236.25" x2="511.25" y2="236.25" stroke-width="1.5"/>
<line x1="503.25" y1="260" x2="511.25" y2="260" stroke-width="1.5"/>
<polygon points="503.45,251.8 511.05,251.8 507.25,245.2" fill="#000" stroke="#000" stroke-width="0.8" stroke-linejoin="miter"/>
<polygon points="315.95,316.8 323.55,316.8 319.75,310.2" fill="#000" stroke="#000" stroke-width="0.8" stroke-linejoin="miter"/>
<line x1="344.75" y1="330" x2="344.75" y2="339.5" stroke-width="1.5"/>
<line x1="340.75" y1="330" x2="348.75" y2="330" stroke-width="1.5"/>
<line x1="340.75" y1="339.5" x2="348.75" y2="339.5" stroke-width="1.5"/>
<line x1="357.25" y1="327.5" x2="357.25" y2="335.5" stroke-width="1.5"/>
<line x1="353.25" y1="327.5" x2="361.25" y2="327.5" stroke-width="1.5"/>
<line x1="353.25" y1="335.5" x2="361.25" y2="335.5" stroke-width="1.5"/>
<line x1="369.75" y1="320" x2="369.75" y2="331.5" stroke-width="1.5"/>
<line x1="365.75" y1="320" x2="373.75" y2="320" stroke-width="1.5"/>
<line x1="365.75" y1="331.5" x2="373.75" y2="331.5" stroke-width="1.5"/>
<line x1="382.25" y1="317.5" x2="382.25" y2="330.5" stroke-width="1.5"/>
<line x1="378.25" y1="317.5" x2="386.25" y2="317.5" stroke-width="1.5"/>
<line x1="378.25" y1="330.5" x2="386.25" y2="330.5" stroke-width="1.5"/>
<line x1="394.75" y1="315.5" x2="394.75" y2="327.5" stroke-width="1.5"/>
<line x1="390.75" y1="315.5" x2="398.75" y2="315.5" stroke-width="1.5"/>
<line x1="390.75" y1="327.5" x2="398.75" y2="327.5" stroke-width="1.5"/>
<line x1="419.75" y1="309.5" x2="419.75" y2="327.5" stroke-width="1.5"/>
<line x1="415.75" y1="309.5" x2="423.75" y2="309.5" stroke-width="1.5"/>
<line x1="415.75" y1="327.5" x2="423.75" y2="327.5" stroke-width="1.5"/>
<line x1="432.25" y1="309.5" x2="432.25" y2="323" stroke-width="1.5"/>
<line x1="428.25" y1="309.5" x2="436.25" y2="309.5" stroke-width="1.5"/>
<line x1="428.25" y1="323" x2="436.25" y2="323" stroke-width="1.5"/>
<line x1="444.75" y1="311" x2="444.75" y2="323" stroke-width="1.5"/>
<line x1="440.75" y1="311" x2="448.75" y2="311" stroke-width="1.5"/>
<line x1="440.75" y1="323" x2="448.75" y2="323" stroke-width="1.5"/>
<line x1="457.25" y1="307.5" x2="457.25" y2="322.5" stroke-width="1.5"/>
<line x1="453.25" y1="307.5" x2="461.25" y2="307.5" stroke-width="1.5"/>
<line x1="453.25" y1="322.5" x2="461.25" y2="322.5" stroke-width="1.5"/>
<line x1="469.75" y1="309.5" x2="469.75" y2="326.25" stroke-width="1.5"/>
<line x1="465.75" y1="309.5" x2="473.75" y2="309.5" stroke-width="1.5"/>
<line x1="465.75" y1="326.25" x2="473.75" y2="326.25" stroke-width="1.5"/>
<line x1="482.25" y1="310" x2="482.25" y2="324" stroke-width="1.5"/>
<line x1="478.25" y1="310" x2="486.25" y2="310" stroke-width="1.5"/>
<line x1="478.25" y1="324" x2="486.25" y2="324" stroke-width="1.5"/>
<line x1="494.75" y1="311" x2="494.75" y2="324" stroke-width="1.5"/>
<line x1="490.75" y1="311" x2="498.75" y2="311" stroke-width="1.5"/>
<line x1="490.75" y1="324" x2="498.75" y2="324" stroke-width="1.5"/>
<line x1="507.25" y1="310" x2="507.25" y2="326" stroke-width="1.5"/>
<line x1="503.25" y1="310" x2="511.25" y2="310" stroke-width="1.5"/>
<line x1="503.25" y1="326" x2="511.25" y2="326" stroke-width="1.5"/>
<polygon points="315.95,357.3 323.55,357.3 319.75,350.7" fill="#fff" stroke-width="1.7" stroke-linejoin="miter"/>
<polygon points="328.45,347.05 336.05,347.05 332.25,340.45" fill="#fff" stroke-width="1.7" stroke-linejoin="miter"/>
<polygon points="340.95,338.3 348.55,338.3 344.75,331.7" fill="#fff" stroke-width="1.7" stroke-linejoin="miter"/>
<polygon points="353.45,335.3 361.05,335.3 357.25,328.7" fill="#fff" stroke-width="1.7" stroke-linejoin="miter"/>
<polygon points="365.95,329.8 373.55,329.8 369.75,323.2" fill="#fff" stroke-width="1.7" stroke-linejoin="miter"/>
<polygon points="378.45,328.3 386.05,328.3 382.25,321.7" fill="#fff" stroke-width="1.7" stroke-linejoin="miter"/>
<polygon points="390.95,325.3 398.55,325.3 394.75,318.7" fill="#fff" stroke-width="1.7" stroke-linejoin="miter"/>
<polygon points="415.95,322.05 423.55,322.05 419.75,315.45" fill="#fff" stroke-width="1.7" stroke-linejoin="miter"/>
<polygon points="428.45,320.8 436.05,320.8 432.25,314.2" fill="#fff" stroke-width="1.7" stroke-linejoin="miter"/>
<polygon points="440.95,320.8 448.55,320.8 444.75,314.2" fill="#fff" stroke-width="1.7" stroke-linejoin="miter"/>
<polygon points="453.45,318.8 461.05,318.8 457.25,312.2" fill="#fff" stroke-width="1.7" stroke-linejoin="miter"/>
<polygon points="465.95,322.8 473.55,322.8 469.75,316.2" fill="#fff" stroke-width="1.7" stroke-linejoin="miter"/>
<polygon points="478.45,321.3 486.05,321.3 482.25,314.7" fill="#fff" stroke-width="1.7" stroke-linejoin="miter"/>
<polygon points="490.95,322.8 498.55,322.8 494.75,316.2" fill="#fff" stroke-width="1.7" stroke-linejoin="miter"/>
<polygon points="503.45,322.05 511.05,322.05 507.25,315.45" fill="#fff" stroke-width="1.7" stroke-linejoin="miter"/>
<polygon points="315.95,356.8 323.55,356.8 319.75,350.2" fill="#000" stroke="#000" stroke-width="0.8" stroke-linejoin="miter"/>
<text x="514.3" y="273" font-size="10.6" text-anchor="end">TR42-62</text>
<polygon points="476.2,287.6 483.8,287.6 480,281" fill="#fff" stroke-width="1.7" stroke-linejoin="miter"/>
<text x="491" y="288.1" font-size="10.6" text-anchor="start">APC</text>
<polygon points="476.2,302.6 483.8,302.6 480,296" fill="#000" stroke="#000" stroke-width="0.8" stroke-linejoin="miter"/>
<text x="491" y="302.7" font-size="10.6" text-anchor="start">IIa</text>
<text x="-0.4" y="412.5" font-size="17" text-anchor="start">E</text>
<rect x="47.5" y="417.8" width="199.3" height="132.7" fill="none" stroke-width="1.8"/>
<line x1="44" y1="550.75" x2="47.5" y2="550.75" stroke-width="1.5"/>
<text x="43.7" y="555.15" font-size="10.4" text-anchor="end">0</text>
<line x1="44" y1="526.75" x2="47.5" y2="526.75" stroke-width="1.5"/>
<text x="43.7" y="531.15" font-size="10.4" text-anchor="end">10</text>
<line x1="44" y1="502.75" x2="47.5" y2="502.75" stroke-width="1.5"/>
<text x="43.7" y="507.15" font-size="10.4" text-anchor="end">20</text>
<line x1="44" y1="478.75" x2="47.5" y2="478.75" stroke-width="1.5"/>
<text x="43.7" y="483.15" font-size="10.4" text-anchor="end">30</text>
<line x1="44" y1="454.75" x2="47.5" y2="454.75" stroke-width="1.5"/>
<text x="43.7" y="459.15" font-size="10.4" text-anchor="end">40</text>
<line x1="44" y1="430.75" x2="47.5" y2="430.75" stroke-width="1.5"/>
<text x="43.7" y="435.15" font-size="10.4" text-anchor="end">50</text>
<line x1="47.5" y1="550.5" x2="47.5" y2="554.3" stroke-width="1.5"/>
<text x="47.5" y="565.6" font-size="10.4" text-anchor="middle">0</text>
<line x1="78.54" y1="550.5" x2="78.54" y2="554.3" stroke-width="1.5"/>
<text x="78.54" y="565.6" font-size="10.4" text-anchor="middle">5</text>
<line x1="109.58" y1="550.5" x2="109.58" y2="554.3" stroke-width="1.5"/>
<text x="109.58" y="565.6" font-size="10.4" text-anchor="middle">10</text>
<line x1="140.62" y1="550.5" x2="140.62" y2="554.3" stroke-width="1.5"/>
<text x="140.62" y="565.6" font-size="10.4" text-anchor="middle">15</text>
<line x1="171.66" y1="550.5" x2="171.66" y2="554.3" stroke-width="1.5"/>
<text x="171.66" y="565.6" font-size="10.4" text-anchor="middle">20</text>
<line x1="202.7" y1="550.5" x2="202.7" y2="554.3" stroke-width="1.5"/>
<text x="202.7" y="565.6" font-size="10.4" text-anchor="middle">25</text>
<line x1="233.74" y1="550.5" x2="233.74" y2="554.3" stroke-width="1.5"/>
<text x="233.74" y="565.6" font-size="10.4" text-anchor="middle">30</text>
<text x="147" y="579.2" font-size="10.4" text-anchor="middle">Time (hr)</text>
<text transform="translate(27.2,482.4) rotate(-90)" font-size="10.7" text-anchor="middle">TR42-62 fragments (<tspan font-weight="normal">µ</tspan>M)</text>
<path d="M47.5,550.75 L49.05,549.91 L50.6,549.07 L52.16,548.24 L53.71,547.41 L55.26,546.6 L56.81,545.78 L58.36,544.98 L59.92,544.18 L61.47,543.38 L63.02,542.59 L64.57,541.81 L66.12,541.03 L67.68,540.26 L69.23,539.49 L70.78,538.73 L72.33,537.98 L73.88,537.23 L75.44,536.49 L76.99,535.75 L78.54,535.02 L80.09,534.29 L81.64,533.57 L83.2,532.85 L84.75,532.14 L86.3,531.44 L87.85,530.74 L89.4,530.04 L90.96,529.35 L92.51,528.67 L94.06,527.99 L95.61,527.31 L97.16,526.64 L98.72,525.98 L100.27,525.32 L101.82,524.66 L103.37,524.01 L104.92,523.37 L106.48,522.72 L108.03,522.09 L109.58,521.46 L111.13,520.83 L112.68,520.21 L114.24,519.59 L115.79,518.98 L117.34,518.37 L118.89,517.77 L120.44,517.17 L122,516.57 L123.55,515.98 L125.1,515.4 L126.65,514.81 L128.2,514.24 L129.76,513.66 L131.31,513.09 L132.86,512.53 L134.41,511.97 L135.96,511.41 L137.52,510.86 L139.07,510.31 L140.62,509.77 L142.17,509.23 L143.72,508.69 L145.28,508.16 L146.83,507.63 L148.38,507.11 L149.93,506.59 L151.48,506.07 L153.04,505.56 L154.59,505.05 L156.14,504.54 L157.69,504.04 L159.24,503.54 L160.8,503.05 L162.35,502.56 L163.9,502.07 L165.45,501.59 L167,501.11 L168.56,500.63 L170.11,500.16 L171.66,499.69 L173.21,499.23 L174.76,498.76 L176.32,498.3 L177.87,497.85 L179.42,497.4 L180.97,496.95 L182.52,496.5 L184.08,496.06 L185.63,495.62 L187.18,495.19 L188.73,494.75 L190.28,494.33 L191.84,493.9 L193.39,493.48 L194.94,493.06 L196.49,492.64 L198.04,492.23 L199.6,491.82 L201.15,491.41 L202.7,491.01 L204.25,490.6 L205.8,490.21 L207.36,489.81 L208.91,489.42 L210.46,489.03 L212.01,488.64 L213.56,488.26 L215.12,487.88 L216.67,487.5 L218.22,487.12 L219.77,486.75 L221.32,486.38 L222.88,486.01 L224.43,485.65 L225.98,485.29 L227.53,484.93 L229.08,484.57 L230.64,484.22 L232.19,483.87 L233.74,483.52" fill="none" stroke-width="1.6" stroke-linejoin="round"/>
<path d="M51.22,550.75 L59.92,545.71 L109.58,531.31 L233.74,489.79" fill="none" stroke-width="1.6" stroke-linejoin="round"/>
<line x1="146.83" y1="505" x2="146.83" y2="511.5" stroke-width="1.5"/>
<line x1="142.83" y1="505" x2="150.83" y2="505" stroke-width="1.5"/>
<line x1="142.83" y1="511.5" x2="150.83" y2="511.5" stroke-width="1.5"/>
<line x1="159.24" y1="500" x2="159.24" y2="507.5" stroke-width="1.5"/>
<line x1="155.24" y1="500" x2="163.24" y2="500" stroke-width="1.5"/>
<line x1="155.24" y1="507.5" x2="163.24" y2="507.5" stroke-width="1.5"/>
<line x1="171.66" y1="496" x2="171.66" y2="505" stroke-width="1.5"/>
<line x1="167.66" y1="496" x2="175.66" y2="496" stroke-width="1.5"/>
<line x1="167.66" y1="505" x2="175.66" y2="505" stroke-width="1.5"/>
<line x1="184.08" y1="491" x2="184.08" y2="500" stroke-width="1.5"/>
<line x1="180.08" y1="491" x2="188.08" y2="491" stroke-width="1.5"/>
<line x1="180.08" y1="500" x2="188.08" y2="500" stroke-width="1.5"/>
<line x1="196.49" y1="490.5" x2="196.49" y2="498.5" stroke-width="1.5"/>
<line x1="192.49" y1="490.5" x2="200.49" y2="490.5" stroke-width="1.5"/>
<line x1="192.49" y1="498.5" x2="200.49" y2="498.5" stroke-width="1.5"/>
<line x1="208.91" y1="483.8" x2="208.91" y2="496.4" stroke-width="1.5"/>
<line x1="204.91" y1="483.8" x2="212.91" y2="483.8" stroke-width="1.5"/>
<line x1="204.91" y1="496.4" x2="212.91" y2="496.4" stroke-width="1.5"/>
<line x1="221.32" y1="480.6" x2="221.32" y2="499.6" stroke-width="1.5"/>
<line x1="217.32" y1="480.6" x2="225.32" y2="480.6" stroke-width="1.5"/>
<line x1="217.32" y1="499.6" x2="225.32" y2="499.6" stroke-width="1.5"/>
<line x1="233.74" y1="477.4" x2="233.74" y2="494.3" stroke-width="1.5"/>
<line x1="229.74" y1="477.4" x2="237.74" y2="477.4" stroke-width="1.5"/>
<line x1="229.74" y1="494.3" x2="237.74" y2="494.3" stroke-width="1.5"/>
<line x1="184.08" y1="504" x2="184.08" y2="511" stroke-width="1.5"/>
<line x1="180.08" y1="504" x2="188.08" y2="504" stroke-width="1.5"/>
<line x1="180.08" y1="511" x2="188.08" y2="511" stroke-width="1.5"/>
<line x1="196.49" y1="500" x2="196.49" y2="507.5" stroke-width="1.5"/>
<line x1="192.49" y1="500" x2="200.49" y2="500" stroke-width="1.5"/>
<line x1="192.49" y1="507.5" x2="200.49" y2="507.5" stroke-width="1.5"/>
<line x1="208.91" y1="494" x2="208.91" y2="502" stroke-width="1.5"/>
<line x1="204.91" y1="494" x2="212.91" y2="494" stroke-width="1.5"/>
<line x1="204.91" y1="502" x2="212.91" y2="502" stroke-width="1.5"/>
<line x1="221.32" y1="491" x2="221.32" y2="499.6" stroke-width="1.5"/>
<line x1="217.32" y1="491" x2="225.32" y2="491" stroke-width="1.5"/>
<line x1="217.32" y1="499.6" x2="225.32" y2="499.6" stroke-width="1.5"/>
<line x1="233.74" y1="487.5" x2="233.74" y2="494.8" stroke-width="1.5"/>
<line x1="229.74" y1="487.5" x2="237.74" y2="487.5" stroke-width="1.5"/>
<line x1="229.74" y1="494.8" x2="237.74" y2="494.8" stroke-width="1.5"/>
<polygon points="59.92,546.3 63.82,550.2 59.92,554.1 56.02,550.2" fill="#fff" stroke-width="1.7"/>
<polygon points="72.33,546.3 76.23,550.2 72.33,554.1 68.43,550.2" fill="#fff" stroke-width="1.7"/>
<polygon points="84.75,540.1 88.65,544 84.75,547.9 80.85,544" fill="#fff" stroke-width="1.7"/>
<polygon points="97.16,536.1 101.06,540 97.16,543.9 93.26,540" fill="#fff" stroke-width="1.7"/>
<polygon points="109.58,528.1 113.48,532 109.58,535.9 105.68,532" fill="#fff" stroke-width="1.7"/>
<polygon points="122,524.7 125.9,528.6 122,532.5 118.1,528.6" fill="#fff" stroke-width="1.7"/>
<polygon points="146.83,516.1 150.73,520 146.83,523.9 142.93,520" fill="#fff" stroke-width="1.7"/>
<polygon points="159.24,512.9 163.14,516.8 159.24,520.7 155.34,516.8" fill="#fff" stroke-width="1.7"/>
<polygon points="171.66,508.1 175.56,512 171.66,515.9 167.76,512" fill="#fff" stroke-width="1.7"/>
<polygon points="184.08,503.6 187.98,507.5 184.08,511.4 180.18,507.5" fill="#fff" stroke-width="1.7"/>
<polygon points="196.49,499.9 200.39,503.8 196.49,507.7 192.59,503.8" fill="#fff" stroke-width="1.7"/>
<polygon points="208.91,494.1 212.81,498 208.91,501.9 205.01,498" fill="#fff" stroke-width="1.7"/>
<polygon points="221.32,491.1 225.22,495 221.32,498.9 217.42,495" fill="#fff" stroke-width="1.7"/>
<polygon points="233.74,486.9 237.64,490.8 233.74,494.7 229.84,490.8" fill="#fff" stroke-width="1.7"/>
<circle cx="47.5" cy="550.2" r="3.3" fill="#fff" stroke-width="1.8"/>
<circle cx="59.92" cy="542.5" r="3.3" fill="#fff" stroke-width="1.8"/>
<circle cx="72.33" cy="534.2" r="3.3" fill="#fff" stroke-width="1.8"/>
<circle cx="84.75" cy="530.2" r="3.3" fill="#fff" stroke-width="1.8"/>
<circle cx="97.16" cy="524.2" r="3.3" fill="#fff" stroke-width="1.8"/>
<circle cx="109.58" cy="520.5" r="3.3" fill="#fff" stroke-width="1.8"/>
<circle cx="122" cy="515.8" r="3.3" fill="#fff" stroke-width="1.8"/>
<circle cx="146.83" cy="508.3" r="3.3" fill="#fff" stroke-width="1.8"/>
<circle cx="159.24" cy="503.8" r="3.3" fill="#fff" stroke-width="1.8"/>
<circle cx="171.66" cy="500" r="3.3" fill="#fff" stroke-width="1.8"/>
<circle cx="184.08" cy="495.5" r="3.3" fill="#fff" stroke-width="1.8"/>
<circle cx="196.49" cy="494.5" r="3.3" fill="#fff" stroke-width="1.8"/>
<circle cx="208.91" cy="489.5" r="3.3" fill="#fff" stroke-width="1.8"/>
<circle cx="221.32" cy="487.5" r="3.3" fill="#fff" stroke-width="1.8"/>
<circle cx="233.74" cy="483" r="3.3" fill="#fff" stroke-width="1.8"/>
<circle cx="53.09" cy="550.5" r="3.9" fill="#000" stroke="none"/>
<circle cx="56.19" cy="550.5" r="3.9" fill="#000" stroke="none"/>
<circle cx="63.02" cy="550.5" r="3.9" fill="#000" stroke="none"/>
<circle cx="66.12" cy="550.5" r="3.9" fill="#000" stroke="none"/>
<circle cx="84.75" cy="550.5" r="3.9" fill="#000" stroke="none"/>
<circle cx="97.16" cy="550.5" r="3.9" fill="#000" stroke="none"/>
<circle cx="109.58" cy="550.5" r="3.9" fill="#000" stroke="none"/>
<circle cx="233.74" cy="550.5" r="3.9" fill="#000" stroke="none"/>
<polygon points="52.16,546.6 56.06,550.5 52.16,554.4 48.26,550.5" fill="#000" stroke="#000" stroke-width="0.8"/>
<polygon points="54.95,546.6 58.85,550.5 54.95,554.4 51.05,550.5" fill="#000" stroke="#000" stroke-width="0.8"/>
<polygon points="59.92,546.6 63.82,550.5 59.92,554.4 56.02,550.5" fill="#000" stroke="#000" stroke-width="0.8"/>
<polygon points="69.23,546.6 73.13,550.5 69.23,554.4 65.33,550.5" fill="#000" stroke="#000" stroke-width="0.8"/>
<polygon points="72.33,546.6 76.23,550.5 72.33,554.4 68.43,550.5" fill="#000" stroke="#000" stroke-width="0.8"/>
<polygon points="59.92,546.3 63.82,550.2 59.92,554.1 56.02,550.2" fill="#fff" stroke-width="1.7"/>
<polygon points="72.33,546.3 76.23,550.2 72.33,554.1 68.43,550.2" fill="#fff" stroke-width="1.7"/>
<line x1="47.5" y1="550.5" x2="246.8" y2="550.5" stroke-width="1.8"/>
<text x="53.8" y="434.9" font-size="10.6" text-anchor="start">TR42-46</text>
<polygon points="60.3,442 64.7,446.4 60.3,450.8 55.9,446.4" fill="#fff" stroke-width="1.7"/>
<text x="71.2" y="450.6" font-size="10.6" text-anchor="start">APC</text>
<polygon points="60.3,457.4 64.3,461.4 60.3,465.4 56.3,461.4" fill="#000" stroke="#000" stroke-width="0.8"/>
<text x="71.2" y="465.6" font-size="10.6" text-anchor="start">IIa</text>
<text x="112.6" y="434.9" font-size="10.6" text-anchor="start">TR47-62</text>
<circle cx="118.8" cy="446.4" r="3.6" fill="#fff" stroke-width="1.8"/>
<text x="130.8" y="450.6" font-size="10.6" text-anchor="start">APC</text>
<circle cx="118.8" cy="461.3" r="3.8" fill="#000" stroke="none"/>
<text x="130.8" y="465.6" font-size="10.6" text-anchor="start">IIa</text>
<text x="283.9" y="413.9" font-size="17" text-anchor="start">F</text>
<rect x="319.9" y="418" width="199.1" height="132.4" fill="none" stroke-width="1.8"/>
<line x1="316.5" y1="550.75" x2="320" y2="550.75" stroke-width="1.5"/>
<text x="315.5" y="555.65" font-size="10.4" text-anchor="end">0</text>
<line x1="316.5" y1="528.3" x2="320" y2="528.3" stroke-width="1.5"/>
<text x="315.5" y="533.2" font-size="10.4" text-anchor="end">10</text>
<line x1="316.5" y1="505.85" x2="320" y2="505.85" stroke-width="1.5"/>
<text x="315.5" y="510.75" font-size="10.4" text-anchor="end">20</text>
<line x1="316.5" y1="483.4" x2="320" y2="483.4" stroke-width="1.5"/>
<text x="315.5" y="488.3" font-size="10.4" text-anchor="end">30</text>
<line x1="316.5" y1="460.95" x2="320" y2="460.95" stroke-width="1.5"/>
<text x="315.5" y="465.85" font-size="10.4" text-anchor="end">40</text>
<line x1="316.5" y1="438.5" x2="320" y2="438.5" stroke-width="1.5"/>
<text x="315.5" y="443.4" font-size="10.4" text-anchor="end">50</text>
<line x1="319.75" y1="550.5" x2="319.75" y2="554.3" stroke-width="1.5"/>
<text x="319.75" y="565.6" font-size="10.4" text-anchor="middle">0</text>
<line x1="382.25" y1="550.5" x2="382.25" y2="554.3" stroke-width="1.5"/>
<text x="382.25" y="565.6" font-size="10.4" text-anchor="middle">10</text>
<line x1="444.75" y1="550.5" x2="444.75" y2="554.3" stroke-width="1.5"/>
<text x="444.75" y="565.6" font-size="10.4" text-anchor="middle">20</text>
<line x1="507.25" y1="550.5" x2="507.25" y2="554.3" stroke-width="1.5"/>
<text x="507.25" y="565.6" font-size="10.4" text-anchor="middle">30</text>
<text x="419.5" y="579.2" font-size="10.4" text-anchor="middle">Time (hr)</text>
<text transform="translate(298.9,482.6) rotate(-90)" font-size="10.7" text-anchor="middle">TR42-66 fragments (<tspan font-weight="normal">µ</tspan>M)</text>
<line x1="320" y1="438.5" x2="507.25" y2="436.4" stroke-width="1.6"/>
<path d="M319.75,438.28 L321.31,438.65 L322.88,439.03 L324.44,439.41 L326,439.78 L327.56,440.16 L329.12,440.53 L330.69,440.9 L332.25,441.27 L333.81,441.64 L335.38,442.01 L336.94,442.37 L338.5,442.74 L340.06,443.1 L341.62,443.47 L343.19,443.83 L344.75,444.19 L346.31,444.55 L347.88,444.9 L349.44,445.26 L351,445.62 L352.56,445.97 L354.12,446.32 L355.69,446.68 L357.25,447.03 L358.81,447.38 L360.38,447.72 L361.94,448.07 L363.5,448.42 L365.06,448.76 L366.62,449.11 L368.19,449.45 L369.75,449.79 L371.31,450.13 L372.88,450.47 L374.44,450.81 L376,451.14 L377.56,451.48 L379.12,451.81 L380.69,452.15 L382.25,452.48 L383.81,452.81 L385.38,453.14 L386.94,453.47 L388.5,453.8 L390.06,454.12 L391.62,454.45 L393.19,454.77 L394.75,455.1 L396.31,455.42 L397.88,455.74 L399.44,456.06 L401,456.38 L402.56,456.7 L404.12,457.01 L405.69,457.33 L407.25,457.65 L408.81,457.96 L410.38,458.27 L411.94,458.58 L413.5,458.89 L415.06,459.2 L416.62,459.51 L418.19,459.82 L419.75,460.13 L421.31,460.43 L422.88,460.73 L424.44,461.04 L426,461.34 L427.56,461.64 L429.12,461.94 L430.69,462.24 L432.25,462.54 L433.81,462.84 L435.38,463.13 L436.94,463.43 L438.5,463.72 L440.06,464.02 L441.62,464.31 L443.19,464.6 L444.75,464.89 L446.31,465.18 L447.88,465.47 L449.44,465.75 L451,466.04 L452.56,466.33 L454.12,466.61 L455.69,466.89 L457.25,467.18 L458.81,467.46 L460.38,467.74 L461.94,468.02 L463.5,468.3 L465.06,468.57 L466.62,468.85 L468.19,469.13 L469.75,469.4 L471.31,469.68 L472.88,469.95 L474.44,470.22 L476,470.49 L477.56,470.76 L479.12,471.03 L480.69,471.3 L482.25,471.57 L483.81,471.84 L485.38,472.1 L486.94,472.37 L488.5,472.63 L490.06,472.89 L491.62,473.16 L493.19,473.42 L494.75,473.68 L496.31,473.94 L497.88,474.2 L499.44,474.46 L501,474.71 L502.56,474.97 L504.12,475.22 L505.69,475.48 L507.25,475.73" fill="none" stroke-width="1.6" stroke-linejoin="round"/>
<path d="M319.75,550.75 L321.31,549.64 L322.88,548.54 L324.44,547.45 L326,546.37 L327.56,545.31 L329.12,544.26 L330.69,543.23 L332.25,542.2 L333.81,541.19 L335.38,540.19 L336.94,539.2 L338.5,538.22 L340.06,537.26 L341.62,536.3 L343.19,535.36 L344.75,534.43 L346.31,533.51 L347.88,532.6 L349.44,531.7 L351,530.81 L352.56,529.93 L354.12,529.06 L355.69,528.2 L357.25,527.35 L358.81,526.52 L360.38,525.69 L361.94,524.87 L363.5,524.06 L365.06,523.26 L366.62,522.47 L368.19,521.69 L369.75,520.92 L371.31,520.16 L372.88,519.41 L374.44,518.66 L376,517.93 L377.56,517.2 L379.12,516.48 L380.69,515.77 L382.25,515.07 L383.81,514.38 L385.38,513.69 L386.94,513.02 L388.5,512.35 L390.06,511.69 L391.62,511.03 L393.19,510.39 L394.75,509.75 L396.31,509.12 L397.88,508.5 L399.44,507.88 L401,507.27 L402.56,506.67 L404.12,506.08 L405.69,505.49 L407.25,504.91 L408.81,504.34 L410.38,503.77 L411.94,503.21 L413.5,502.66 L415.06,502.11 L416.62,501.57 L418.19,501.04 L419.75,500.51 L421.31,499.99 L422.88,499.47 L424.44,498.96 L426,498.46 L427.56,497.96 L429.12,497.47 L430.69,496.98 L432.25,496.5 L433.81,496.03 L435.38,495.56 L436.94,495.1 L438.5,494.64 L440.06,494.19 L441.62,493.74 L443.19,493.3 L444.75,492.86 L446.31,492.43 L447.88,492 L449.44,491.58 L451,491.17 L452.56,490.75 L454.12,490.35 L455.69,489.95 L457.25,489.55 L458.81,489.16 L460.38,488.77 L461.94,488.39 L463.5,488.01 L465.06,487.63 L466.62,487.26 L468.19,486.9 L469.75,486.54 L471.31,486.18 L472.88,485.83 L474.44,485.48 L476,485.13 L477.56,484.79 L479.12,484.46 L480.69,484.12 L482.25,483.8 L483.81,483.47 L485.38,483.15 L486.94,482.83 L488.5,482.52 L490.06,482.21 L491.62,481.9 L493.19,481.6 L494.75,481.3 L496.31,481.01 L497.88,480.72 L499.44,480.43 L501,480.14 L502.56,479.86 L504.12,479.58 L505.69,479.31 L507.25,479.04" fill="none" stroke-width="3.2" stroke-linejoin="round"/>
<line x1="332.25" y1="521.2" x2="332.25" y2="543.5" stroke-width="1.5"/>
<line x1="328.25" y1="521.2" x2="336.25" y2="521.2" stroke-width="1.5"/>
<line x1="328.25" y1="543.5" x2="336.25" y2="543.5" stroke-width="1.5"/>
<line x1="344.75" y1="519.1" x2="344.75" y2="541.3" stroke-width="1.5"/>
<line x1="340.75" y1="519.1" x2="348.75" y2="519.1" stroke-width="1.5"/>
<line x1="340.75" y1="541.3" x2="348.75" y2="541.3" stroke-width="1.5"/>
<line x1="357.25" y1="517.7" x2="357.25" y2="537.5" stroke-width="1.5"/>
<line x1="353.25" y1="517.7" x2="361.25" y2="517.7" stroke-width="1.5"/>
<line x1="353.25" y1="537.5" x2="361.25" y2="537.5" stroke-width="1.5"/>
<line x1="369.75" y1="516.4" x2="369.75" y2="535.4" stroke-width="1.5"/>
<line x1="365.75" y1="516.4" x2="373.75" y2="516.4" stroke-width="1.5"/>
<line x1="365.75" y1="535.4" x2="373.75" y2="535.4" stroke-width="1.5"/>
<line x1="382.25" y1="495.2" x2="382.25" y2="529.1" stroke-width="1.5"/>
<line x1="378.25" y1="495.2" x2="386.25" y2="495.2" stroke-width="1.5"/>
<line x1="378.25" y1="529.1" x2="386.25" y2="529.1" stroke-width="1.5"/>
<line x1="394.75" y1="488.9" x2="394.75" y2="526.5" stroke-width="1.5"/>
<line x1="390.75" y1="488.9" x2="398.75" y2="488.9" stroke-width="1.5"/>
<line x1="390.75" y1="526.5" x2="398.75" y2="526.5" stroke-width="1.5"/>
<line x1="419.75" y1="478" x2="419.75" y2="512" stroke-width="1.5"/>
<line x1="415.75" y1="478" x2="423.75" y2="478" stroke-width="1.5"/>
<line x1="415.75" y1="512" x2="423.75" y2="512" stroke-width="1.5"/>
<line x1="432.25" y1="477" x2="432.25" y2="510" stroke-width="1.5"/>
<line x1="428.25" y1="477" x2="436.25" y2="477" stroke-width="1.5"/>
<line x1="428.25" y1="510" x2="436.25" y2="510" stroke-width="1.5"/>
<line x1="444.75" y1="461" x2="444.75" y2="513" stroke-width="1.5"/>
<line x1="440.75" y1="461" x2="448.75" y2="461" stroke-width="1.5"/>
<line x1="440.75" y1="513" x2="448.75" y2="513" stroke-width="1.5"/>
<line x1="457.25" y1="459" x2="457.25" y2="508" stroke-width="1.5"/>
<line x1="453.25" y1="459" x2="461.25" y2="459" stroke-width="1.5"/>
<line x1="453.25" y1="508" x2="461.25" y2="508" stroke-width="1.5"/>
<line x1="469.75" y1="466" x2="469.75" y2="500" stroke-width="1.5"/>
<line x1="465.75" y1="466" x2="473.75" y2="466" stroke-width="1.5"/>
<line x1="465.75" y1="500" x2="473.75" y2="500" stroke-width="1.5"/>
<line x1="482.25" y1="462" x2="482.25" y2="500" stroke-width="1.5"/>
<line x1="478.25" y1="462" x2="486.25" y2="462" stroke-width="1.5"/>
<line x1="478.25" y1="500" x2="486.25" y2="500" stroke-width="1.5"/>
<line x1="494.75" y1="466" x2="494.75" y2="498" stroke-width="1.5"/>
<line x1="490.75" y1="466" x2="498.75" y2="466" stroke-width="1.5"/>
<line x1="490.75" y1="498" x2="498.75" y2="498" stroke-width="1.5"/>
<line x1="507.25" y1="458.8" x2="507.25" y2="497" stroke-width="1.5"/>
<line x1="503.25" y1="458.8" x2="511.25" y2="458.8" stroke-width="1.5"/>
<line x1="503.25" y1="497" x2="511.25" y2="497" stroke-width="1.5"/>
<line x1="344.75" y1="426.5" x2="344.75" y2="437.5" stroke-width="1.5"/>
<line x1="340.75" y1="426.5" x2="348.75" y2="426.5" stroke-width="1.5"/>
<line x1="340.75" y1="437.5" x2="348.75" y2="437.5" stroke-width="1.5"/>
<line x1="357.25" y1="423.8" x2="357.25" y2="437" stroke-width="1.5"/>
<line x1="353.25" y1="423.8" x2="361.25" y2="423.8" stroke-width="1.5"/>
<line x1="353.25" y1="437" x2="361.25" y2="437" stroke-width="1.5"/>
<line x1="382.25" y1="428.6" x2="382.25" y2="445" stroke-width="1.5"/>
<line x1="378.25" y1="428.6" x2="386.25" y2="428.6" stroke-width="1.5"/>
<line x1="378.25" y1="445" x2="386.25" y2="445" stroke-width="1.5"/>
<line x1="419.75" y1="428" x2="419.75" y2="444" stroke-width="1.5"/>
<line x1="415.75" y1="428" x2="423.75" y2="428" stroke-width="1.5"/>
<line x1="415.75" y1="444" x2="423.75" y2="444" stroke-width="1.5"/>
<line x1="432.25" y1="432" x2="432.25" y2="451" stroke-width="1.5"/>
<line x1="428.25" y1="432" x2="436.25" y2="432" stroke-width="1.5"/>
<line x1="428.25" y1="451" x2="436.25" y2="451" stroke-width="1.5"/>
<line x1="344.75" y1="437.5" x2="344.75" y2="451.3" stroke-width="1.5"/>
<line x1="340.75" y1="437.5" x2="348.75" y2="437.5" stroke-width="1.5"/>
<line x1="340.75" y1="451.3" x2="348.75" y2="451.3" stroke-width="1.5"/>
<line x1="357.25" y1="440" x2="357.25" y2="452" stroke-width="1.5"/>
<line x1="353.25" y1="440" x2="361.25" y2="440" stroke-width="1.5"/>
<line x1="353.25" y1="452" x2="361.25" y2="452" stroke-width="1.5"/>
<line x1="369.75" y1="443.8" x2="369.75" y2="455.5" stroke-width="1.5"/>
<line x1="365.75" y1="443.8" x2="373.75" y2="443.8" stroke-width="1.5"/>
<line x1="365.75" y1="455.5" x2="373.75" y2="455.5" stroke-width="1.5"/>
<line x1="394.75" y1="457.6" x2="394.75" y2="471.8" stroke-width="1.5"/>
<line x1="390.75" y1="457.6" x2="398.75" y2="457.6" stroke-width="1.5"/>
<line x1="390.75" y1="471.8" x2="398.75" y2="471.8" stroke-width="1.5"/>
<line x1="444.75" y1="461" x2="444.75" y2="486" stroke-width="1.5"/>
<line x1="440.75" y1="461" x2="448.75" y2="461" stroke-width="1.5"/>
<line x1="440.75" y1="486" x2="448.75" y2="486" stroke-width="1.5"/>
<line x1="457.25" y1="459" x2="457.25" y2="478" stroke-width="1.5"/>
<line x1="453.25" y1="459" x2="461.25" y2="459" stroke-width="1.5"/>
<line x1="453.25" y1="478" x2="461.25" y2="478" stroke-width="1.5"/>
<line x1="494.75" y1="467" x2="494.75" y2="482" stroke-width="1.5"/>
<line x1="490.75" y1="467" x2="498.75" y2="467" stroke-width="1.5"/>
<line x1="490.75" y1="482" x2="498.75" y2="482" stroke-width="1.5"/>
<rect x="316.2" y="444.45" width="7.1" height="7.1" fill="#000" stroke="none"/>
<rect x="328.7" y="432.25" width="7.1" height="7.1" fill="#000" stroke="none"/>
<rect x="341.2" y="428.65" width="7.1" height="7.1" fill="#000" stroke="none"/>
<rect x="353.7" y="430.75" width="7.1" height="7.1" fill="#000" stroke="none"/>
<rect x="366.2" y="430.75" width="7.1" height="7.1" fill="#000" stroke="none"/>
<rect x="378.7" y="432.85" width="7.1" height="7.1" fill="#000" stroke="none"/>
<rect x="391.2" y="435.05" width="7.1" height="7.1" fill="#000" stroke="none"/>
<rect x="416.2" y="431.45" width="7.1" height="7.1" fill="#000" stroke="none"/>
<rect x="428.7" y="437.75" width="7.1" height="7.1" fill="#000" stroke="none"/>
<rect x="441.2" y="438.95" width="7.1" height="7.1" fill="#000" stroke="none"/>
<rect x="453.7" y="436.45" width="7.1" height="7.1" fill="#000" stroke="none"/>
<rect x="466.2" y="436.45" width="7.1" height="7.1" fill="#000" stroke="none"/>
<rect x="478.7" y="435.25" width="7.1" height="7.1" fill="#000" stroke="none"/>
<rect x="491.2" y="429.45" width="7.1" height="7.1" fill="#000" stroke="none"/>
<rect x="503.7" y="430.25" width="7.1" height="7.1" fill="#000" stroke="none"/>
<circle cx="344.75" cy="432.2" r="3.9" fill="#000" stroke="none"/>
<rect x="316.5" y="430.45" width="6.5" height="6.5" fill="#fff" stroke-width="1.9"/>
<rect x="329" y="441.65" width="6.5" height="6.5" fill="#fff" stroke-width="1.9"/>
<rect x="341.5" y="439.55" width="6.5" height="6.5" fill="#fff" stroke-width="1.9"/>
<rect x="354" y="442.25" width="6.5" height="6.5" fill="#fff" stroke-width="1.9"/>
<rect x="366.5" y="446.55" width="6.5" height="6.5" fill="#fff" stroke-width="1.9"/>
<rect x="379" y="446.95" width="6.5" height="6.5" fill="#fff" stroke-width="1.9"/>
<rect x="391.5" y="460.75" width="6.5" height="6.5" fill="#fff" stroke-width="1.9"/>
<rect x="416.5" y="456.85" width="6.5" height="6.5" fill="#fff" stroke-width="1.9"/>
<rect x="429" y="456.15" width="6.5" height="6.5" fill="#fff" stroke-width="1.9"/>
<rect x="441.5" y="471.15" width="6.5" height="6.5" fill="#fff" stroke-width="1.9"/>
<rect x="454" y="464.25" width="6.5" height="6.5" fill="#fff" stroke-width="1.9"/>
<rect x="466.5" y="466.25" width="6.5" height="6.5" fill="#fff" stroke-width="1.9"/>
<rect x="479" y="466.75" width="6.5" height="6.5" fill="#fff" stroke-width="1.9"/>
<rect x="491.5" y="471.25" width="6.5" height="6.5" fill="#fff" stroke-width="1.9"/>
<rect x="504" y="471.25" width="6.5" height="6.5" fill="#fff" stroke-width="1.9"/>
<polygon points="328.45,533.7 336.05,533.7 332.25,540.3" fill="#fff" stroke-width="1.7" stroke-linejoin="miter"/>
<polygon points="340.95,528.5 348.55,528.5 344.75,535.1" fill="#fff" stroke-width="1.7" stroke-linejoin="miter"/>
<polygon points="353.45,524.9 361.05,524.9 357.25,531.5" fill="#fff" stroke-width="1.7" stroke-linejoin="miter"/>
<polygon points="415.95,493.7 423.55,493.7 419.75,500.3" fill="#fff" stroke-width="1.7" stroke-linejoin="miter"/>
<polygon points="428.45,490.7 436.05,490.7 432.25,497.3" fill="#fff" stroke-width="1.7" stroke-linejoin="miter"/>
<polygon points="453.45,488 461.05,488 457.25,494.6" fill="#fff" stroke-width="1.7" stroke-linejoin="miter"/>
<polygon points="465.95,481.7 473.55,481.7 469.75,488.3" fill="#fff" stroke-width="1.7" stroke-linejoin="miter"/>
<polygon points="478.45,478.7 486.05,478.7 482.25,485.3" fill="#fff" stroke-width="1.7" stroke-linejoin="miter"/>
<polygon points="490.95,476.7 498.55,476.7 494.75,483.3" fill="#fff" stroke-width="1.7" stroke-linejoin="miter"/>
<polygon points="503.45,474.7 511.05,474.7 507.25,481.3" fill="#fff" stroke-width="1.7" stroke-linejoin="miter"/>
<polygon points="369.75,521.6 373.65,525.5 369.75,529.4 365.85,525.5" fill="#fff" stroke-width="1.7"/>
<polygon points="394.75,503.2 398.65,507.1 394.75,511 390.85,507.1" fill="#fff" stroke-width="1.7"/>
<polygon points="419.75,490.9 423.65,494.8 419.75,498.7 415.85,494.8" fill="#fff" stroke-width="1.7"/>
<polygon points="432.25,488.6 436.15,492.5 432.25,496.4 428.35,492.5" fill="#fff" stroke-width="1.7"/>
<polygon points="444.75,486.6 448.65,490.5 444.75,494.4 440.85,490.5" fill="#fff" stroke-width="1.7"/>
<polygon points="457.25,486.1 461.15,490 457.25,493.9 453.35,490" fill="#fff" stroke-width="1.7"/>
<polygon points="469.75,480.1 473.65,484 469.75,487.9 465.85,484" fill="#fff" stroke-width="1.7"/>
<polygon points="482.25,477.1 486.15,481 482.25,484.9 478.35,481" fill="#fff" stroke-width="1.7"/>
<polygon points="494.75,475.1 498.65,479 494.75,482.9 490.85,479" fill="#fff" stroke-width="1.7"/>
<polygon points="507.25,472.1 511.15,476 507.25,479.9 503.35,476" fill="#fff" stroke-width="1.7"/>
<circle cx="319.75" cy="550" r="3.3" fill="#fff" stroke-width="1.8"/>
<circle cx="332.25" cy="534.6" r="3.3" fill="#fff" stroke-width="1.8"/>
<circle cx="344.75" cy="525.5" r="3.3" fill="#fff" stroke-width="1.8"/>
<circle cx="357.25" cy="522.3" r="3.3" fill="#fff" stroke-width="1.8"/>
<circle cx="369.75" cy="519.8" r="3.3" fill="#fff" stroke-width="1.8"/>
<circle cx="382.25" cy="512.8" r="3.3" fill="#fff" stroke-width="1.8"/>
<circle cx="394.75" cy="511.7" r="3.3" fill="#fff" stroke-width="1.8"/>
<circle cx="419.75" cy="502.2" r="3.3" fill="#fff" stroke-width="1.8"/>
<circle cx="432.25" cy="497.5" r="3.3" fill="#fff" stroke-width="1.8"/>
<circle cx="444.75" cy="502.5" r="3.3" fill="#fff" stroke-width="1.8"/>
<circle cx="457.25" cy="483.8" r="3.3" fill="#fff" stroke-width="1.8"/>
<circle cx="469.75" cy="483.8" r="3.3" fill="#fff" stroke-width="1.8"/>
<circle cx="482.25" cy="478.8" r="3.3" fill="#fff" stroke-width="1.8"/>
<circle cx="494.75" cy="481.3" r="3.3" fill="#fff" stroke-width="1.8"/>
<circle cx="507.25" cy="471.3" r="3.3" fill="#fff" stroke-width="1.8"/>
<polygon points="332.25,546.6 336.15,550.5 332.25,554.4 328.35,550.5" fill="#000" stroke="#000" stroke-width="0.8"/>
<polygon points="344.75,546.6 348.65,550.5 344.75,554.4 340.85,550.5" fill="#000" stroke="#000" stroke-width="0.8"/>
<polygon points="357.25,546.6 361.15,550.5 357.25,554.4 353.35,550.5" fill="#000" stroke="#000" stroke-width="0.8"/>
<polygon points="369.75,546.6 373.65,550.5 369.75,554.4 365.85,550.5" fill="#000" stroke="#000" stroke-width="0.8"/>
<polygon points="382.25,546.6 386.15,550.5 382.25,554.4 378.35,550.5" fill="#000" stroke="#000" stroke-width="0.8"/>
<polygon points="394.75,546.6 398.65,550.5 394.75,554.4 390.85,550.5" fill="#000" stroke="#000" stroke-width="0.8"/>
<polygon points="432.25,546.6 436.15,550.5 432.25,554.4 428.35,550.5" fill="#000" stroke="#000" stroke-width="0.8"/>
<polygon points="444.75,546.6 448.65,550.5 444.75,554.4 440.85,550.5" fill="#000" stroke="#000" stroke-width="0.8"/>
<polygon points="457.25,546.6 461.15,550.5 457.25,554.4 453.35,550.5" fill="#000" stroke="#000" stroke-width="0.8"/>
<polygon points="469.75,546.6 473.65,550.5 469.75,554.4 465.85,550.5" fill="#000" stroke="#000" stroke-width="0.8"/>
<polygon points="482.25,546.6 486.15,550.5 482.25,554.4 478.35,550.5" fill="#000" stroke="#000" stroke-width="0.8"/>
<polygon points="494.75,546.6 498.65,550.5 494.75,554.4 490.85,550.5" fill="#000" stroke="#000" stroke-width="0.8"/>
<polygon points="507.25,546.6 511.15,550.5 507.25,554.4 503.35,550.5" fill="#000" stroke="#000" stroke-width="0.8"/>
<circle cx="419.75" cy="550.3" r="3.8" fill="#000" stroke="none"/>
</svg>
</body></html>
